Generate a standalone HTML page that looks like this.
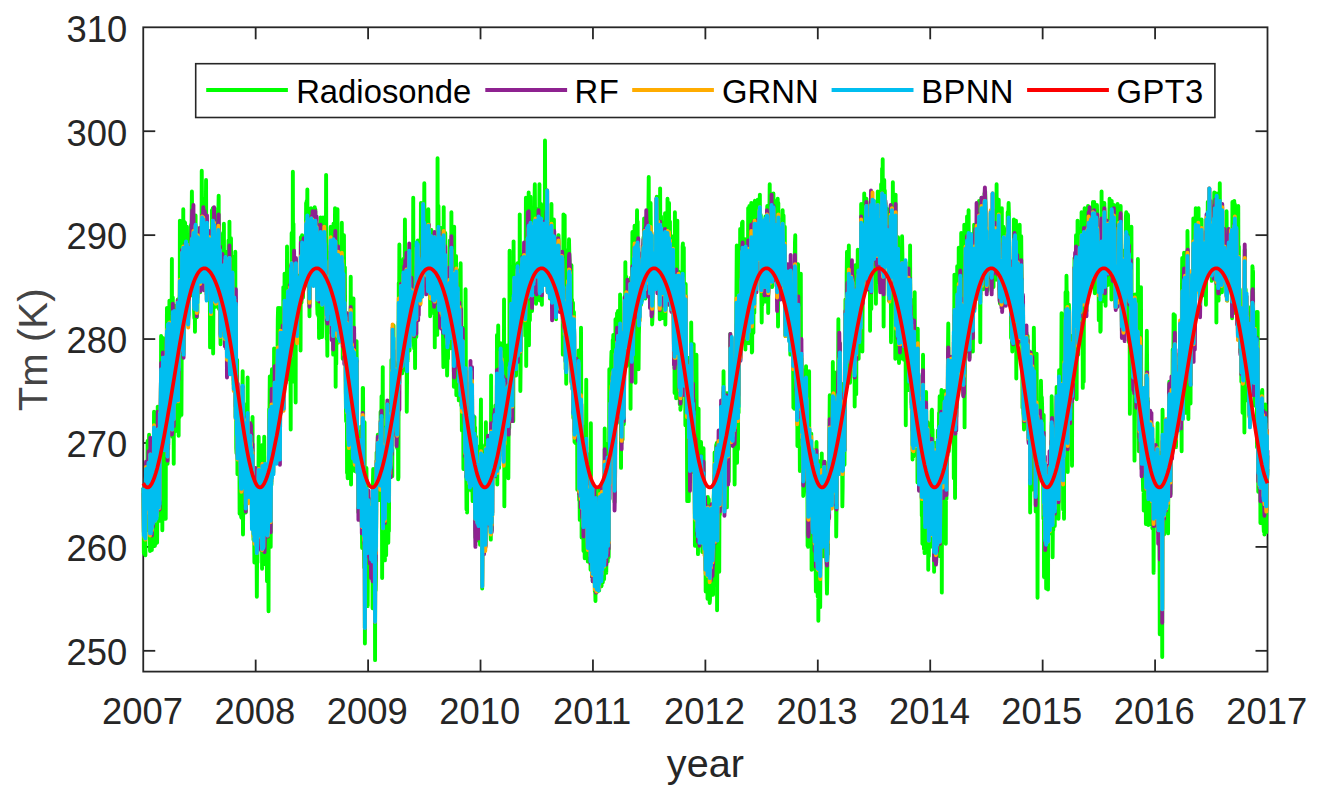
<!DOCTYPE html>
<html><head><meta charset="utf-8"><style>
html,body{margin:0;padding:0;background:#fff;}
svg{display:block;}
text{font-family:"Liberation Sans",sans-serif;}
</style></head><body>
<svg width="1318" height="798" viewBox="0 0 1318 798">
<rect width="1318" height="798" fill="#fff"/>
<g stroke="#262626" stroke-width="1.8" fill="none"><line x1="255.68" y1="671.60" x2="255.68" y2="659.60"/><line x1="255.68" y1="27.30" x2="255.68" y2="39.30"/><line x1="368.10" y1="671.60" x2="368.10" y2="659.60"/><line x1="368.10" y1="27.30" x2="368.10" y2="39.30"/><line x1="480.52" y1="671.60" x2="480.52" y2="659.60"/><line x1="480.52" y1="27.30" x2="480.52" y2="39.30"/><line x1="592.95" y1="671.60" x2="592.95" y2="659.60"/><line x1="592.95" y1="27.30" x2="592.95" y2="39.30"/><line x1="705.38" y1="671.60" x2="705.38" y2="659.60"/><line x1="705.38" y1="27.30" x2="705.38" y2="39.30"/><line x1="817.80" y1="671.60" x2="817.80" y2="659.60"/><line x1="817.80" y1="27.30" x2="817.80" y2="39.30"/><line x1="930.22" y1="671.60" x2="930.22" y2="659.60"/><line x1="930.22" y1="27.30" x2="930.22" y2="39.30"/><line x1="1042.65" y1="671.60" x2="1042.65" y2="659.60"/><line x1="1042.65" y1="27.30" x2="1042.65" y2="39.30"/><line x1="1155.08" y1="671.60" x2="1155.08" y2="659.60"/><line x1="1155.08" y1="27.30" x2="1155.08" y2="39.30"/><line x1="143.25" y1="650.82" x2="155.25" y2="650.82"/><line x1="1267.50" y1="650.82" x2="1255.50" y2="650.82"/><line x1="143.25" y1="546.90" x2="155.25" y2="546.90"/><line x1="1267.50" y1="546.90" x2="1255.50" y2="546.90"/><line x1="143.25" y1="442.98" x2="155.25" y2="442.98"/><line x1="1267.50" y1="442.98" x2="1255.50" y2="442.98"/><line x1="143.25" y1="339.06" x2="155.25" y2="339.06"/><line x1="1267.50" y1="339.06" x2="1255.50" y2="339.06"/><line x1="143.25" y1="235.14" x2="155.25" y2="235.14"/><line x1="1267.50" y1="235.14" x2="1255.50" y2="235.14"/><line x1="143.25" y1="131.22" x2="155.25" y2="131.22"/><line x1="1267.50" y1="131.22" x2="1255.50" y2="131.22"/><rect x="143.25" y="27.30" width="1124.25" height="644.30" fill="none"/></g>
<g fill="none" stroke-width="3.90" stroke-linejoin="round" stroke-linecap="butt">
<g transform="translate(143.250 671.600) scale(0.307845 -1.039194)"><path d="M0 177l1-21 1-42 1 1 1-2 1 0 1 14 1-15 1 61 1 23 1-14 1 1 1 4 1-39 1 74 1-39 1 6 1 16 1-69 1 92 1-52 1 5 1-65 1 105 1-37 1-59 1 33 1-10 1-31 1 59 1 34 1-79 1-1 1 38 1 31 1 51 1-20 1-49 1-60 1 37 1 65 1-40 1-53 1-6 1 3 1-3 1 41 1 90 1-85 1 50 1-57 1-18 1 39 1-20 1 82 1-36 1 25 1-5 1 93 1-33 1 0 1-35 1-119 1 118 1 67 1-99 1 66 1-50 1 11 1-44 1 64 1 43 1-123 1-42 1 167 1-84 1 73 1 47 1-48 1-102 1 88 1-70 1 115 1 0 1-18 1 42 1-26 1-20 1-1 1-46 1 92 1-50 1 10 1 81 1-171 1 63 1 71 1-85 1 54 1-129 1 106 1 46 1-44 1-77 1 60 1 10 1-34 1 69 1-36 1 20 1-14 1-1 1 53 1-115 1 108 1-124 1 88 1 33 1-103 1 189 1-103 1 35 1-19 1 12 1-112 1 66 1 104 1-62 1 2 1-11 1 99 1-135 1 33 1 90 1-50 1-30 1 79 1-70 1 45 1 19 1-74 1-1 1 77 1-46 1-41 1 6 1 25 1-9 1-15 1 40 1 11 1 7 1 2 1-18 1-15 1 55 1-68 1 69 1 31 1-31 1-43 1 22 1 1 1 18 1-38 1-43 1-8 1 41 1-54 1 93 1 19 1-44 1 33 1-49 1-38 1 43 1-39 1 80 1-47 1-2 1 1 1 15 1-10 1 22 1-29 1-10 1 6 1 45 1-20 1-12 1 98 1-35 1-27 1 35 1-18 1-5 1-16 1-46 1 12 1 31 1 29 1-55 1 47 1-8 1 47 1-90 1 18 1 18 1-31 1 4 1 5 1-36 1 34 1-20 1 8 1 36 1-24 1-83 1 110 1-51 1-48 1 43 1 8 1 70 1-28 1-52 1 82 1-140 1 52 1 3 1 84 1-26 1-24 1-10 1 24 1-43 1-15 1 65 1-34 1-5 1 10 1 16 1-17 1 60 1-5 1 17 1-109 1 11 1 48 1-4 1-41 1-48 1 54 1 25 1-28 1-42 1 49 1 13 1-6 1 42 1-18 1-57 1 84 1-99 1 22 1-31 1 20 1 61 1-66 1-15 1 44 1-13 1-60 1 56 1-4 1 15 1-8 1 62 1-77 1 7 1 88 1-103 1-42 1 25 1 19 1 85 1-86 1 16 1 1 1 1 1 50 1-93 1-6 1-3 1-21 1 67 1-9 1-40 1 23 1 87 1-159 1 115 1-145 1-5 1 20 1 70 1-110 1 69 1-50 1 20 1-14 1 1 1 26 1-90 1 78 1-18 1-14 1-22 1-27 1-1 1 13 1 27 1 80 1 21 1-157 1 40 1 44 1-24 1 31 1 14 1-5 1-61 1 76 1-94 1 31 1 56 1-36 1 54 1-66 1 91 1-101 1-9 1 22 1 12 1-30 1 27 1-37 1 57 1 2 1-20 1 20 1-25 1 12 1-66 1 57 1 41 1-67 1 6 1-57 1 3 1 24 1-49 1 32 1 41 1-40 1 37 1-22 1-39 1 17 1-59 1 48 1-15 1 56 1-38 1 52 1 51 1-58 1 26 1-16 1 16 1-52 1 53 1-18 1 20 1-2 1-8 1-88 1 119 1-49 1 16 1-82 1 56 1-11 1 78 1-80 1-34 1 83 1-27 1-26 1 29 1-36 1-15 1-33 1 59 1-50 1 5 1 38 1-81 1 152 1 43 1-6 1 37 1-1 1-74 1-89 1 61 1-2 1 99 1 13 1-25 1-43 1-33 1 47 1-27 1 0 1 101 1-85 1 71 1-37 1 17 1-12 1-3 1-27 1-24 1 60 1 10 1 14 1 44 1 11 1-114 1 33 1-38 1 51 1-57 1 125 1-97 1 86 1-45 1-41 1 57 1 30 1-42 1 27 1 18 1-72 1 99 1-106 1 39 1-35 1 115 1-56 1-32 1 60 1-14 1-40 1 19 1-31 1 120 1-128 1 62 1 20 1-23 1 3 1 2 1-20 1 6 1 22 1 29 1-71 1-78 1 157 1-39 1 71 1-121 1-22 1 51 1 151 1-125 1 75 1-82 1-52 1 80 1-29 1 3 1-31 1-61 1 137 1-46 1-6 1 4 1-31 1 52 1-1 1-19 1 32 1-30 1 5 1 5 1 17 1 3 1-14 1-58 1 109 1-37 1-26 1 13 1 52 1-34 1 24 1-50 1 33 1-4 1-9 1-4 1-1 1-4 1 46 1-37 1 10 1 61 1-46 1 48 1-35 1 46 1-77 1 45 1-54 1 60 1-83 1 29 1-42 1 55 1-15 1 23 1 8 1 33 1-8 1-12 1-34 1-11 1 63 1-16 1-22 1-31 1 35 1 12 1 11 1 14 1-20 1 18 1-48 1 18 1-27 1 43 1-28 1-51 1-8 1 23 1 31 1-56 1 52 1-73 1 79 1-31 1 47 1 10 1 11 1-39 1 26 1-41 1-14 1-47 1 50 1 45 1 20 1-46 1-1 1 12 1 34 1-46 1 21 1-55 1 47 1-32 1 107 1-133 1-25 1 18 1-34 1 99 1-66 1 33 1-1 1-24 1 0 1 29 1-7 1-29 1 63 1 27 1-74 1 57 1-86 1 89 1-79 1 82 1-50 1-62 1 126 1-86 1 24 1 41 1 4 1 32 1-13 1-159 1 99 1-77 1 61 1 6 1-47 1 129 1-90 1 51 1-56 1-31 1 22 1-21 1 6 1-9 1 45 1-12 1-11 1 55 1-38 1 76 1-64 1 44 1-111 1 36 1 62 1-53 1 74 1-114 1 53 1 30 1-58 1 10 1-79 1-21 1 13 1 91 1-154 1 67 1-72 1 155 1-72 1-42 1-16 1 50 1-34 1 49 1 31 1-42 1 115 1-200 1 97 1-40 1 85 1-69 1 0 1-51 1 114 1 43 1-98 1 65 1-93 1-40 1 33 1 43 1 9 1-1 1-4 1 45 1-42 1-80 1-5 1 10 1-2 1-46 1 43 1 24 1 11 1-83 1 36 1 9 1 19 1-51 1 75 1-92 1 4 1-29 1 22 1 132 1 0 1-79 1 3 1-84 1-13 1 140 1-213 1 95 1 26 1 22 1-3 1 29 1-27 1-82 1 34 1-58 1 48 1 2 1 54 1-27 1 17 1-21 1-12 1 34 1-38 1 29 1-43 1 4 1 3 1 12 1 17 1-81 1 120 1 14 1-43 1-5 1-39 1-29 1 106 1-174 1 133 1-66 1 13 1 87 1 33 1-2 1-21 1 26 1 14 1-7 1-30 1 24 1-19 1-31 1 58 1-10 1-28 1 65 1-33 1 9 1 39 1-68 1-107 1 134 1 69 1-144 1 55 1 17 1 4 1-34 1-6 1-78 1 109 1 19 1-52 1-71 1 57 1 60 1 1 1 28 1-99 1 20 1-55 1 27 1-16 1 60 1-5 1 37 1-36 1 9 1-2 1 34 1 68 1-17 1 10 1-105 1 84 1-5 1 22 1 44 1-94 1 10 1 49 1-31 1-11 1 39 1-61 1 7 1 35 1-5 1-54 1-2 1 29 1 31 1-90 1 2 1 187 1-29 1 66 1-51 1-61 1-11 1 4 1 93 1-94 1 29 1-20 1-13 1 21 1-19 1 27 1 81 1-55 1 35 1 14 1-22 1 66 1-44 1-43 1-37 1 37 1 48 1-146 1 32 1 75 1-58 1 41 1-13 1 58 1-18 1 5 1-63 1 31 1 22 1-34 1 44 1-9 1-7 1-21 1 27 1-43 1 42 1-26 1 121 1-107 1-33 1-5 1 47 1-11 1-55 1 78 1-5 1 10 1-53 1 91 1-26 1 10 1-6 1 24 1-45 1 27 1-33 1 16 1-13 1 25 1-20 1 17 1-29 1 91 1-79 1 8 1-13 1-6 1 20 1 22 1 13 1 13 1-1 1-6 1 48 1-71 1 41 1-60 1 38 1-20 1-21 1 33 1 22 1-38 1-8 1 4 1-18 1 73 1-41 1 23 1-6 1-34 1 20 1-65 1 15 1 33 1 30 1 5 1-22 1-3 1-14 1 15 1-37 1 17 1 5 1 10 1-52 1 71 1-103 1 101 1-31 1-23 1 4 1 15 1-18 1 43 1-79 1 170 1-106 1-8 1 68 1-52 1-59 1 77 1 8 1-76 1 47 1-39 1 73 1-84 1 34 1-21 1-5 1-6 1 15 1-47 1-20 1 154 1-142 1 47 1 44 1-60 1 86 1-40 1-44 1-9 1 23 1 0 1-67 1 14 1 17 1-15 1 41 1 22 1 4 1-8 1 13 1 42 1-104 1 68 1-35 1 19 1 79 1-93 1 21 1-23 1 39 1-50 1 15 1-20 1-57 1 154 1-123 1 79 1-1 1-30 1 2 1 45 1-134 1 86 1-1 1-38 1 24 1 49 1-70 1 29 1-84 1 12 1 85 1-71 1 45 1-63 1 124 1-62 1-75 1 36 1-60 1 56 1 2 1 41 1-52 1-84 1 40 1 28 1-9 1 6 1 10 1-63 1 161 1-85 1-79 1-48 1 78 1-81 1 95 1-55 1-19 1 26 1 36 1 14 1-18 1 10 1-65 1 18 1 83 1-63 1 28 1-62 1-7 1 113 1-109 1-14 1 48 1-7 1 21 1 4 1-35 1 50 1-69 1 59 1-106 1 62 1 35 1-31 1-26 1 0 1-29 1 33 1 9 1 16 1-72 1 37 1-3 1 57 1-35 1-60 1 67 1 47 1 26 1-99 1 15 1 40 1-138 1 53 1-8 1 75 1-41 1 48 1-76 1 36 1 8 1 12 1-26 1-40 1 119 1-99 1 43 1-23 1 34 1 8 1-11 1-43 1 56 1 0 1-24 1-30 1 55 1 8 1 8 1-88 1-7 1 158 1-96 1-53 1 42 1 40 1 16 1-40 1 35 1-20 1-2 1 33 1-31 1 39 1-53 1 61 1-50 1 43 1-33 1-1 1 109 1-144 1 36 1 13 1 104 1-47 1-11 1-79 1 25 1-13 1 53 1-34 1 89 1-64 1-13 1 38 1 25 1-4 1-64 1 22 1-3 1-12 1-23 1 140 1-199 1 59 1 23 1 22 1 26 1-56 1 14 1-14 1 36 1-54 1 34 1 65 1-87 1-41 1 52 1 3 1-7 1 171 1-118 1 17 1-28 1-7 1 94 1-11 1-10 1-58 1-29 1 55 1-26 1-43 1 173 1-100 1 64 1-74 1 13 1 57 1-50 1 42 1-81 1 42 1 4 1-21 1 69 1 14 1-94 1 25 1 37 1-49 1 58 1-70 1 140 1-63 1-107 1 29 1 52 1 5 1-12 1 42 1 15 1-4 1-36 1 8 1 5 1-9 1-3 1-7 1 16 1-34 1-14 1 26 1 107 1-162 1 74 1 13 1 0 1-15 1 64 1-34 1-24 1 89 1-147 1 80 1-31 1-25 1 59 1 60 1-76 1-8 1 15 1 1 1-42 1 48 1 18 1 26 1-68 1 9 1 16 1 19 1 39 1 15 1-40 1 12 1-31 1-56 1 62 1-41 1 70 1-37 1-12 1-3 1 18 1 14 1 3 1-17 1 58 1-112 1 28 1 11 1-1 1 55 1-42 1-22 1-33 1 63 1-21 1-2 1 24 1-3 1 32 1-61 1 29 1-32 1 129 1-84 1-26 1-16 1-1 1 72 1-47 1 13 1-40 1-16 1 28 1-19 1 4 1-7 1-5 1 8 1-16 1 72 1-25 1 21 1-3 1 26 1-59 1-36 1 11 1 15 1-9 1 10 1-8 1 61 1-33 1-5 1 19 1-58 1 5 1 6 1-30 1 67 1-30 1 20 1 6 1-40 1 13 1 44 1 1 1-62 1 11 1 7 1-8 1-19 1 20 1 18 1 11 1-10 1-1 1 6 1 9 1-13 1-84 1 56 1 79 1-105 1 11 1 5 1 88 1-100 1 11 1-59 1 46 1-60 1 41 1 87 1-24 1-30 1 12 1 13 1-38 1 19 1 59 1-13 1-7 1-77 1 24 1-6 1 6 1-15 1 63 1-78 1 45 1-80 1 2 1 75 1-111 1 21 1 81 1-31 1-94 1 53 1 13 1-67 1 64 1-49 1 55 1-18 1 1 1-98 1 78 1-26 1 23 1 59 1-7 1-137 1 16 1-35 1 106 1-61 1-30 1 170 1-83 1-119 1 3 1 24 1 6 1 1 1-4 1-43 1 93 1-63 1 90 1-127 1 112 1-101 1 77 1 20 1 64 1-121 1-23 1 52 1-45 1-38 1 57 1 46 1-43 1-19 1-12 1 16 1 10 1-8 1-55 1 141 1-117 1 0 1 37 1-68 1 77 1-81 1 67 1-7 1 27 1-1 1-19 1-35 1-42 1 4 1-13 1 108 1-98 1 86 1-81 1 49 1-29 1-26 1 37 1-13 1-23 1 91 1-91 1 59 1 39 1-53 1-26 1-14 1 36 1-37 1 1 1 84 1-77 1 76 1-80 1 30 1 53 1-35 1-45 1 30 1 115 1-68 1 44 1-113 1 24 1-26 1 24 1 68 1-62 1 94 1-113 1 42 1-32 1-6 1 70 1 111 1-62 1 41 1 11 1-65 1 52 1 30 1 10 1-32 1 30 1-60 1 73 1-5 1 10 1-54 1-37 1 18 1-88 1 145 1-89 1 120 1-6 1-1 1-15 1-78 1 106 1-26 1-58 1 86 1-27 1-59 1 18 1 25 1-12 1 12 1 59 1-49 1-20 1-98 1 87 1-63 1 56 1 45 1-98 1 43 1 20 1 28 1-76 1 53 1 10 1 60 1-31 1 64 1-44 1-7 1 37 1-86 1 83 1-62 1 55 1-62 1 42 1 14 1-11 1-49 1 68 1-51 1-12 1 56 1-112 1 126 1-14 1-12 1-55 1 80 1 45 1-35 1-78 1 36 1 21 1 39 1 1 1 22 1-26 1-60 1-65 1 81 1 30 1-34 1 46 1 43 1-50 1 39 1-51 1 28 1-119 1 33 1 11 1 63 1-50 1 12 1 21 1-11 1-17 1 18 1-11 1-3 1 32 1 13 1-13 1 13 1 16 1-36 1 54 1-4 1-25 1 13 1-61 1 48 1-2 1 17 1 3 1 14 1-63 1 19 1 1 1-25 1 76 1 29 1-91 1 8 1 17 1-51 1 60 1 32 1-29 1-36 1-16 1 49 1-85 1 5 1 16 1 11 1 4 1 41 1-15 1-18 1 8 1-3 1 6 1 9 1-20 1 66 1-54 1 67 1-32 1-45 1 14 1 34 1 18 1-22 1-39 1-8 1 17 1-55 1 126 1-67 1 33 1 7 1-32 1 15 1-81 1 30 1-16 1 38 1 2 1-15 1 32 1-33 1 4 1-10 1 69 1-107 1 21 1 22 1-11 1 19 1-15 1 8 1 77 1-12 1-3 1-4 1-16 1 31 1-98 1 30 1 50 1-63 1 24 1-19 1-24 1 3 1 37 1 10 1-50 1 3 1 65 1-70 1-7 1-35 1 49 1-88 1 174 1-128 1 6 1 51 1-108 1 119 1-19 1 5 1 66 1-134 1 13 1 16 1 56 1-55 1-50 1-6 1-17 1 39 1-44 1 3 1 5 1 101 1-26 1 37 1-10 1 47 1 3 1-89 1 63 1 22 1-134 1 92 1-41 1 1 1-89 1 136 1-61 1-15 1-11 1-55 1-67 1 103 1 35 1-9 1-41 1-88 1 59 1 24 1-22 1-27 1 40 1 49 1-42 1 91 1-36 1-64 1-44 1 19 1 3 1 46 1-30 1 85 1-98 1 10 1-33 1-73 1 65 1 36 1-81 1 23 1 141 1-85 1-35 1-60 1 78 1-90 1 61 1 79 1-115 1 68 1-74 1 52 1-10 1-31 1 41 1 37 1-20 1-61 1 24 1-49 1 63 1 8 1-17 1 46 1-27 1-53 1-19 1 29 1 13 1-27 1-54 1 30 1 27 1-53 1 76 1 8 1-95 1 98 1-16 1-34 1 48 1-20 1 2 1-82 1 3 1 71 1-32 1 5 1 3 1 29 1-22 1 21 1-40 1 4 1-34 1 51 1 42 1 11 1-21 1 54 1-57 1-41 1 31 1 24 1 50 1-24 1 26 1-161 1 60 1 87 1-26 1 35 1 5 1-28 1-96 1 89 1-34 1 10 1 62 1-9 1 42 1-9 1-49 1 46 1-67 1 58 1-29 1 10 1 73 1-51 1-17 1-63 1 16 1 46 1-17 1 34 1-13 1 44 1-28 1-82 1 56 1 54 1-6 1-72 1 72 1-79 1 49 1 30 1 6 1-8 1 65 1-28 1-29 1 46 1-88 1 79 1-73 1 15 1-17 1 58 1-1 1-65 1 21 1 23 1-86 1 58 1 28 1 5 1 40 1 9 1 47 1 43 1-209 1 62 1-4 1-45 1 109 1-74 1 123 1-59 1-10 1 17 1 106 1-118 1 10 1-1 1 48 1 20 1 47 1-1 1 2 1-115 1 91 1-32 1 33 1-61 1 33 1-7 1 41 1-106 1 93 1-60 1 22 1 11 1-11 1-17 1-29 1 15 1 112 1-73 1-57 1 45 1 87 1-64 1 8 1 2 1-27 1 55 1 29 1-88 1-56 1 1 1 87 1 21 1-56 1-34 1 107 1-52 1-36 1 107 1 1 1-58 1 20 1-22 1-23 1 9 1 59 1-38 1 11 1 43 1-21 1-31 1 21 1 4 1 26 1-17 1 23 1-66 1 47 1-1 1-37 1-42 1-24 1 58 1-41 1 40 1-5 1 36 1-27 1 19 1-18 1-29 1-2 1-11 1 82 1-36 1-12 1 6 1 19 1 22 1 11 1-89 1 44 1-58 1 33 1 18 1 7 1 39 1 27 1-72 1-20 1 31 1-19 1 17 1 51 1-69 1-18 1 69 1-58 1 59 1 20 1-22 1-26 1 19 1-12 1-29 1 63 1-66 1 11 1 35 1-45 1-7 1-16 1 32 1 58 1-123 1 119 1-39 1 5 1 3 1-37 1 2 1-12 1 33 1 29 1-6 1-13 1-14 1 11 1 17 1 14 1-18 1-20 1 33 1-31 1 1 1-43 1 62 1-73 1-32 1 47 1 7 1 4 1-29 1-2 1-24 1 54 1 0 1 7 1-36 1-7 1-24 1 1 1 5 1 1 1-22 1 85 1-26 1-39 1 41 1-48 1-4 1 55 1-7 1-67 1-41 1 77 1-3 1-75 1 129 1 31 1 7 1-126 1-19 1-13 1 17 1-8 1 54 1-108 1 72 1 103 1-39 1-104 1 24 1 21 1-48 1-53 1 65 1 105 1 20 1-128 1 46 1-38 1-33 1 55 1-67 1 28 1-77 1 5 1 28 1 18 1 70 1-46 1-39 1 85 1-52 1 56 1-40 1 13 1-5 1-25 1-116 1 71 1-72 1 4 1 63 1 102 1-121 1-7 1 49 1-3 1-38 1 20 1 40 1-131 1 82 1 19 1-47 1-44 1 76 1 29 1-49 1-29 1 21 1-57 1 91 1-12 1-64 1-37 1 128 1 16 1-89 1 25 1-65 1-20 1 131 1-154 1 110 1-10 1-67 1 87 1-3 1-104 1 69 1 48 1-62 1 41 1 52 1-40 1-11 1-38 1 29 1-34 1-5 1 61 1 25 1-20 1 25 1-19 1-21 1 7 1-25 1-17 1-37 1-15 1 18 1 45 1-25 1 45 1-8 1 7 1 18 1 55 1 36 1-28 1-33 1-9 1-1 1 6 1-3 1 55 1-42 1-13 1 100 1-54 1 42 1-4 1-43 1 49 1-28 1-98 1 62 1-8 1-2 1-84 1 25 1 39 1 47 1-40 1 32 1 33 1 73 1-142 1 32 1 79 1-9 1 17 1-93 1-26 1 69 1-44 1 55 1-20 1-34 1-64 1 20 1 71 1-34 1 2 1 29 1 13 1-61 1 66 1 48 1 45 1-82 1 23 1-4 1 87 1 22 1-18 1-86 1 27 1-11 1-5 1 99 1-89 1 15 1 0 1-58 1 11 1 66 1 7 1 26 1-37 1 21 1-60 1 72 1-76 1 59 1-24 1-37 1 32 1 15 1-98 1 53 1 83 1-53 1 21 1-92 1 70 1-13 1 48 1-17 1 51 1-13 1-2 1-90 1 79 1-19 1-40 1 16 1 9 1 5 1-26 1 125 1-82 1 12 1 51 1-123 1 52 1 33 1 43 1-62 1 12 1 74 1-54 1 11 1 17 1-12 1 15 1-66 1 84 1-4 1-11 1-55 1 51 1-40 1 0 1-6 1-7 1-16 1 33 1 10 1-82 1 75 1-21 1 58 1-91 1 51 1-17 1 22 1-14 1 37 1 4 1-24 1 45 1-63 1 34 1 25 1-16 1-2 1-22 1-55 1 80 1-37 1 20 1-43 1 45 1 43 1-41 1 11 1-17 1 25 1-14 1-12 1-10 1-2 1 31 1-16 1 52 1-57 1-14 1 86 1-74 1 83 1-109 1 20 1-72 1 92 1 49 1-44 1 34 1-62 1 50 1-58 1 0 1 8 1 4 1 12 1-9 1 37 1-55 1 11 1-5 1-39 1 7 1-7 1 29 1 21 1-24 1 65 1-131 1 71 1-8 1 65 1-47 1 15 1 58 1-59 1-23 1 14 1-15 1-4 1 2 1 44 1-129 1 158 1-152 1 68 1-5 1 18 1-36 1-1 1-45 1 112 1-64 1-31 1-26 1 100 1-88 1 1 1 33 1-42 1 51 1-17 1 3 1 18 1 63 1-17 1-53 1 13 1-7 1 12 1-67 1 66 1-40 1 14 1-16 1 70 1-157 1 105 1 16 1 19 1-51 1 14 1-24 1 12 1 41 1 18 1-103 1-13 1 27 1 16 1 96 1-73 1 13 1 8 1-14 1-87 1 28 1-20 1-61 1 36 1 17 1-50 1 41 1 80 1-79 1 116 1-74 1-9 1-8 1-63 1 5 1 21 1-13 1 58 1-100 1 148 1-92 1 49 1-87 1-25 1 88 1-38 1 38 1-18 1-23 1-32 1 18 1-15 1-43 1 29 1-56 1 112 1 70 1-72 1-5 1-110 1 78 1-82 1 68 1-67 1 67 1-38 1 125 1-70 1-73 1 84 1-19 1 49 1-12 1-130 1 126 1-113 1 66 1-29 1 30 1-19 1-39 1 13 1 33 1 14 1 71 1 1 1-60 1 41 1-35 1-7 1 20 1 3 1-118 1 55 1 58 1-11 1 22 1-95 1-17 1-3 1 57 1 19 1-61 1 16 1 96 1-67 1-45 1 96 1 33 1-11 1 27 1-154 1 42 1 52 1 44 1-3 1 25 1-195 1 125 1-6 1-15 1 35 1-43 1 20 1 47 1-5 1 36 1-71 1 7 1 23 1-106 1 143 1-100 1 90 1-57 1 14 1 28 1 68 1 26 1-34 1-89 1 90 1-72 1 23 1 5 1 30 1 6 1 5 1-58 1-3 1 2 1 46 1-58 1 69 1-55 1 38 1-94 1 127 1 69 1-62 1-153 1 68 1 59 1-28 1-21 1 10 1-1 1 136 1-100 1 31 1 39 1-18 1 66 1-40 1-10 1-31 1-3 1 75 1-56 1-37 1 116 1-62 1-16 1-42 1 25 1-23 1-23 1-15 1 44 1-30 1 150 1-195 1 83 1 3 1 65 1 33 1-9 1-51 1-51 1 130 1-80 1 54 1-5 1-1 1 38 1-40 1-41 1-61 1 25 1 36 1 15 1 0 1 43 1-26 1-29 1 24 1-33 1-25 1-24 1 49 1-5 1 23 1 55 1-75 1 25 1 41 1-18 1-19 1-19 1 29 1 31 1-19 1-12 1 13 1-48 1 6 1 14 1 26 1 48 1-54 1 42 1-66 1-58 1 85 1 18 1-45 1 81 1-82 1 41 1-37 1 22 1 19 1-51 1 59 1 6 1-16 1 43 1 1 1 1 1-17 1-37 1-25 1-12 1 3 1-8 1 18 1 27 1-4 1-26 1 17 1 9 1-15 1 16 1-6 1-22 1 14 1 47 1-16 1-58 1 10 1 16 1 10 1-24 1 65 1-44 1-30 1 51 1-10 1-21 1 39 1-22 1-3 1-16 1 40 1-41 1 82 1-92 1 27 1-14 1 35 1-15 1 13 1 31 1-62 1-8 1-26 1-4 1 32 1 11 1 3 1-2 1-42 1 90 1-92 1-4 1 36 1-9 1 51 1-9 1-50 1-6 1 63 1-53 1 12 1-2 1-29 1 32 1-10 1 22 1 3 1-1 1 42 1-28 1 25 1 12 1-10 1-53 1-29 1-3 1 23 1 12 1-12 1-58 1 43 1-29 1-17 1-10 1 68 1-47 1 40 1-16 1 82 1-17 1 6 1-43 1 52 1-14 1-24 1 39 1-152 1 103 1-49 1 87 1-47 1 30 1-90 1 20 1 3 1 60 1-74 1 105 1-70 1 23 1-16 1 14 1 38 1-35 1-21 1-42 1-67 1 102 1-8 1-100 1-4 1-11 1 3 1 67 1-22 1 24 1-21 1-14 1 36 1 20 1-64 1 0 1 55 1 6 1-58 1-2 1-41 1 36 1 33 1-47 1 64 1-155 1 34 1 119 1-81 1 27 1-24 1-53 1 117 1-13 1-38 1-3 1 39 1 54 1-31 1-32 1-49 1 3 1 8 1-76 1 31 1 70 1 51 1-61 1-15 1-159 1 150 1-6 1-11 1 7 1 13 1-21 1 25 1-31 1 38 1-4 1 49 1-15 1-47 1 46 1-10 1-55 1 24 1-26 1-50 1 100 1-156 1 95 1-35 1 39 1-100 1 56 1 28 1-94 1 25 1 90 1-5 1-84 1 77 1-104 1 112 1-4 1-13 1-13 1 37 1-44 1-21 1 41 1-15 1 42 1-7 1 71 1-20 1-4 1-131 1 40 1-14 1 24 1 12 1 23 1-22 1-33 1 58 1 4 1 17 1-5 1 5 1 55 1-38 1 7 1-38 1 39 1-56 1-41 1 17 1 126 1-50 1-9 1 3 1-5 1-31 1 22 1 73 1 52 1-88 1-28 1 95 1-44 1-124 1 93 1-48 1-54 1 151 1-38 1 73 1-93 1 125 1-6 1-120 1 142 1-27 1-25 1 36 1-173 1 66 1-2 1 17 1 80 1-103 1 26 1 10 1-42 1 29 1-9 1 59 1-24 1-40 1-61 1 121 1-13 1-19 1 33 1-11 1 40 1 14 1 35 1-18 1 12 1-27 1 10 1 45 1-41 1-117 1 97 1-21 1 96 1-97 1-32 1 50 1 35 1-59 1 36 1 52 1-14 1-11 1-43 1 47 1-29 1 73 1-40 1-45 1 11 1-95 1 110 1-20 1-84 1 152 1-4 1 19 1-38 1-57 1 61 1-31 1 57 1-91 1 92 1-60 1-17 1 71 1 15 1-68 1 67 1-28 1-36 1 62 1-27 1-27 1-8 1 59 1-34 1 19 1-23 1 29 1-25 1-19 1 63 1-73 1 48 1-21 1 46 1-19 1-69 1 47 1 6 1-3 1-24 1 46 1-32 1 45 1-16 1-12 1-51 1 13 1 23 1-68 1 52 1 8 1-51 1 58 1-78 1 1 1 43 1 9 1 82 1-106 1 32 1 15 1 3 1-6 1 41 1 0 1-69 1 79 1-15 1-59 1 40 1-65 1 66 1 12 1 4 1-2 1-36 1 38 1-62 1 29 1 26 1 2 1-24 1 22 1 28 1-5 1-12 1-4 1-23 1 1 1-54 1 95 1-44 1 16 1-43 1 57 1-45 1-16 1 71 1-47 1 31 1-45 1-17 1-3 1-18 1 16 1 18 1-19 1 26 1-28 1 87 1-66 1-16 1 5 1 26 1 24 1-16 1-15 1 45 1 4 1 7 1-56 1-30 1 15 1-49 1 27 1 48 1-11 1 13 1-77 1 5 1 31 1-3 1-27 1 39 1-43 1 56 1 52 1 4 1-3 1-80 1 75 1 5 1 1 1-1 1-24 1-37 1-61 1 58 1-7 1-120 1 96 1 76 1-8 1-50 1 66 1-116 1 39 1-61 1 22 1-26 1-4 1 40 1-23 1-13 1-83 1 150 1 10 1-64 1 56 1-28 1-63 1 63 1-52 1-10 1 26 1 106 1-82 1-51 1-52 1 69 1-40 1 57 1 19 1 13 1 6 1 34 1-132 1-43 1 21 1 29 1-4 1-56 1-11 1 75 1-94 1 70 1-37 1 53 1-10 1 7 1-17 1-79 1 17 1 132 1 37 1-34 1-92 1 61 1-87 1-35 1 78 1-64 1 75 1-6 1 0 1 15 1-8 1 10 1-60 1 54 1-94 1 76 1-79 1 45 1 5 1 20 1-113 1 64 1 32 1-2 1-5 1-21 1-21 1 73 1-34 1 18 1 0 1-56 1 73 1 23 1-49 1-49 1-7 1 8 1 59 1-24 1-141 1 119 1 8 1 47 1-16 1 17 1-90 1 80 1-187 1 238 1-17 1-64 1 12 1 7 1-58 1 20 1-6 1-1 1 7 1 88 1-90 1 8 1-23 1 69 1-17 1 39 1-26 1-67 1 48 1 14 1 58 1 26 1-32 1 32 1-51 1-57 1 64 1 14 1 25 1-36 1-32 1 47 1 57 1-63 1 47 1 50 1-37 1 16 1 7 1 13 1-76 1-28 1 28 1-51 1 28 1 37 1 12 1-59 1 4 1 4 1-8 1 8 1-6 1 17 1 53 1-31 1 23 1-4 1-25 1-13 1 23 1-67 1 155 1 31 1-59 1-95 1 42 1 16 1 66 1 35 1-80 1 14 1-15 1 58 1-131 1 56 1-20 1 25 1-1 1-21 1 136 1-24 1-108 1-49 1 77 1 30 1-40 1 48 1-87 1 20 1-33 1 61 1 15 1 13 1 24 1 5 1-49 1-6 1 4 1 111 1-119 1 60 1 12 1-6 1-53 1 37 1 40 1 39 1-63 1 56 1-45 1 1 1 44 1-1 1-41 1 46 1 3 1-75 1 11 1-3 1-17 1-10 1 21 1 2 1 17 1-20 1 63 1-54 1-12 1 26 1 19 1-52 1 37 1-25 1 1 1 45 1-6 1-5 1 7 1-21 1-42 1 37 1 45 1-35 1 20 1-23 1 55 1-60 1-6 1 20 1-6 1 44 1-14 1-27 1-8 1 52 1-29 1-10 1-10 1-22 1 5 1 14 1 13 1-12 1 35 1-51 1 55 1 26 1-19 1 15 1-52 1 36 1-8 1 16 1-113 1 124 1-62 1 35 1-26 1-17 1-26 1-7 1 33 1-27 1 60 1 47 1-58 1-8 1-11 1-13 1 32 1-40 1-7 1 62 1-31 1-12 1 0 1 9 1 22 1-5 1 7 1 6 1-43 1 5 1 7 1-17 1-9 1 77 1-34 1-52 1 18 1 8 1 25 1-24 1 31 1-40 1 11 1 29 1-14 1-9 1 2 1 29 1 0 1-3 1 4 1-84 1 112 1-44 1-27 1-31 1-5 1 93 1 15 1-104 1 101 1-12 1-64 1 11 1 33 1-20 1 4 1-63 1 29 1-8 1-38 1 126 1-110 1 71 1-65 1 0 1 24 1-32 1-29 1 40 1 3 1-71 1 2 1 6 1 32 1-70 1 31 1-23 1 41 1 28 1 4 1-100 1 176 1-86 1-20 1 68 1-35 1-17 1 37 1-92 1 77 1-22 1-40 1 21 1-15 1 23 1-44 1-15 1 58 1-59 1 92 1-27 1 41 1-47 1 12 1 27 1-15 1 62 1-3 1-2 1-111 1 60 1-8 1-40 1-30 1 88 1-34 1-6 1-19 1 34 1-41 1 68 1-130 1 112 1 18 1-78 1-95 1 61 1-8 1-24 1-29 1 72 1-14 1-88 1 82 1-43 1 27 1-3 1 63 1 2 1-37 1-4 1 15 1-103 1-7 1 44 1-47 1 48 1 16 1 61 1-25 1-82 1-16 1 96 1-2 1-43 1 10" stroke="#00FF00" vector-effect="non-scaling-stroke"/>
<path d="M0 172l1-8 1-30 1 9 1-12 1 5 1 6 1 9 1 30 1 21 1-13 1-9 1 10 1-28 1 25 1 2 1 11 1 12 1-31 1 30 1-12 1 5 1-52 1 73 1-30 1-45 1 32 1-31 1-20 1 38 1 28 1-58 1 3 1 36 1 7 1 47 1-3 1-15 1-63 1 14 1 61 1-46 1-19 1-8 1 0 1 19 1 32 1 46 1-77 1 48 1-55 1-8 1 21 1-23 1 83 1-31 1 39 1 17 1 33 1-21 1 6 1-24 1 13 1-26 1 62 1-75 1 26 1-20 1 18 1-31 1 50 1 23 1-61 1 67 1-6 1-51 1 68 1 12 1-29 1-95 1 122 1-111 1 102 1 5 1-19 1 26 1-19 1 16 1-21 1-45 1 56 1-69 1-7 1-11 1 5 1 51 1 70 1-75 1-15 1-28 1 79 1 32 1-62 1-20 1 16 1 15 1-30 1 73 1-7 1-21 1 6 1-3 1 43 1-91 1 45 1-30 1 29 1 30 1-8 1 30 1-31 1 26 1-9 1 4 1-44 1 5 1 93 1-41 1-14 1-6 1 59 1-102 1 39 1 30 1-4 1-2 1 30 1 17 1-26 1 20 1-66 1 2 1 69 1-55 1 10 1-13 1-10 1 8 1 3 1 44 1 0 1-4 1-7 1-16 1 5 1 29 1-14 1 33 1 9 1 11 1-40 1 19 1 13 1 13 1-45 1-33 1-19 1 33 1-8 1 27 1 19 1-23 1 22 1-41 1-39 1 41 1-23 1 57 1-39 1 7 1 4 1 5 1-8 1 41 1-36 1-25 1 14 1 27 1-15 1-9 1 43 1 13 1-29 1 23 1 2 1 12 1-42 1-38 1 14 1 3 1 59 1-51 1 43 1-14 1-7 1-31 1-20 1 76 1-28 1 0 1-25 1-7 1 14 1-33 1 64 1-12 1-9 1-16 1 25 1-34 1-26 1 7 1 25 1 26 1-7 1-34 1 58 1-51 1-4 1-5 1 80 1-19 1-33 1 14 1 19 1-47 1-12 1 43 1-22 1-22 1 17 1 17 1 10 1 17 1 2 1 9 1-56 1-17 1 38 1 4 1-40 1-44 1 47 1 18 1-33 1-22 1 58 1 9 1-56 1 17 1 29 1-33 1 23 1-41 1 20 1-48 1 9 1 62 1-49 1-24 1 51 1-18 1-61 1 67 1-38 1 16 1 2 1 61 1-48 1 7 1 60 1-88 1-15 1 17 1 21 1-12 1 25 1-14 1-2 1-11 1 46 1-84 1 11 1-6 1-18 1 59 1 27 1-71 1 27 1-19 1-48 1 113 1-99 1 16 1-42 1-4 1-31 1 69 1-58 1 29 1-34 1 3 1 32 1-29 1 22 1-17 1-15 1-17 1-1 1-14 1 11 1 2 1 83 1 0 1-22 1-78 1 42 1-23 1 35 1 12 1-20 1-41 1 51 1-76 1 48 1 42 1-52 1 50 1-62 1 60 1-74 1 2 1 13 1 16 1 3 1-2 1-22 1 53 1 10 1-25 1 23 1-38 1 30 1-79 1 51 1 18 1-28 1-10 1-35 1-1 1 26 1-32 1 21 1 11 1-2 1 27 1-23 1-40 1 5 1-14 1-6 1 7 1 15 1-23 1 38 1 20 1-25 1 30 1-22 1 30 1-21 1 8 1 3 1 11 1-14 1 3 1-61 1 83 1-10 1-28 1-36 1 22 1 2 1-17 1-18 1 11 1 69 1-34 1-5 1 5 1-21 1-8 1 38 1-12 1-18 1-10 1 16 1 18 1 38 1 1 1 22 1 17 1 5 1-44 1-69 1 61 1-12 1 89 1-82 1 56 1-15 1-23 1 54 1-50 1 22 1 0 1 9 1 51 1-22 1-33 1 44 1-7 1-26 1-43 1 78 1-6 1 19 1 5 1-27 1-50 1 44 1-43 1 52 1-40 1-40 1 72 1 55 1-32 1-42 1 57 1 11 1-34 1 38 1 9 1-64 1 24 1-40 1 61 1-33 1 68 1-27 1-33 1 9 1-20 1 19 1 30 1-28 1 15 1-11 1 27 1 34 1-17 1 9 1-11 1-34 1 19 1 8 1 34 1-68 1 35 1 52 1-37 1 38 1-51 1-5 1-1 1 25 1-4 1 18 1-19 1 50 1-21 1-46 1 31 1-34 1 55 1 8 1-49 1-3 1-13 1-4 1 43 1-2 1-11 1 16 1-20 1-1 1 9 1 12 1 1 1-16 1 5 1 48 1-31 1-24 1 4 1 49 1-23 1 20 1-31 1 27 1 13 1-26 1 2 1-18 1 17 1 25 1-35 1 24 1 17 1-22 1 28 1-26 1 25 1-47 1 33 1-38 1 41 1-45 1 6 1-27 1 29 1-9 1 34 1-20 1 37 1 16 1-13 1-44 1 3 1 59 1-14 1-17 1-30 1 36 1 17 1-2 1-1 1 2 1 9 1-29 1 7 1-40 1 57 1-38 1-40 1 0 1 12 1 18 1-33 1 46 1-33 1 21 1-35 1 53 1 7 1 14 1-44 1 24 1-24 1-13 1-11 1 13 1 38 1-32 1 3 1 8 1-17 1 52 1-21 1 1 1-20 1 2 1-25 1-14 1 1 1-13 1 3 1-6 1 18 1 31 1-5 1-22 1-6 1-7 1 29 1-24 1 5 1 40 1 16 1-29 1 12 1-74 1 78 1-66 1 46 1-8 1-59 1 101 1-69 1 29 1 20 1 5 1 13 1 15 1-68 1 19 1-37 1 20 1-1 1-30 1 47 1-20 1 55 1-48 1-35 1 3 1-2 1 2 1-3 1 46 1-14 1-16 1 31 1-29 1 47 1-27 1 22 1-73 1 23 1 46 1-38 1-5 1-43 1 57 1-30 1 2 1 18 1-58 1-19 1-1 1 80 1-84 1 10 1 30 1-14 1-55 1-2 1 2 1 52 1-42 1 57 1 4 1-14 1 62 1-46 1-19 1-50 1 72 1-16 1 5 1-80 1 98 1-35 1-11 1 62 1-84 1-28 1 20 1 24 1 21 1-1 1 11 1 5 1-29 1-75 1-2 1 2 1-9 1-40 1 42 1 27 1-2 1-40 1-1 1-7 1 17 1-34 1 64 1-38 1-41 1 0 1 23 1 93 1-7 1-34 1-17 1-54 1-14 1 51 1-132 1 87 1 20 1 12 1 4 1 10 1-22 1-24 1 6 1-24 1 2 1-1 1 62 1-37 1 11 1-19 1-25 1 36 1-10 1 3 1-43 1 14 1 12 1-8 1 28 1-49 1 80 1-1 1-15 1 13 1-46 1-13 1 19 1-76 1 99 1-41 1 4 1 66 1 27 1-3 1-10 1 24 1 12 1-18 1-27 1 22 1-14 1 28 1 10 1-9 1-37 1 60 1-14 1 2 1 22 1-42 1-16 1 27 1-7 1-65 1 62 1 5 1-8 1-2 1-18 1-44 1 63 1-29 1-7 1 4 1 50 1-12 1 8 1 41 1-88 1 34 1-8 1-30 1 15 1 16 1-4 1 21 1-26 1 6 1-10 1 47 1 11 1-36 1 78 1-61 1 105 1-61 1 22 1 17 1-52 1-25 1 44 1-11 1 4 1 10 1-49 1 37 1-4 1-46 1 13 1-5 1 2 1 22 1-3 1 28 1 63 1-25 1-60 1 84 1-49 1 7 1-2 1 81 1-81 1 15 1-5 1 59 1-59 1 5 1 21 1 54 1-18 1 4 1 22 1-7 1-2 1 15 1-36 1-22 1 22 1 43 1-49 1-43 1 50 1-30 1 5 1-1 1 45 1-11 1 43 1-74 1-9 1 42 1-37 1 41 1 0 1 4 1-21 1 9 1-20 1 19 1-38 1 22 1-5 1-17 1-5 1 39 1-8 1-12 1 25 1-3 1 2 1-41 1 65 1-20 1-7 1 9 1 10 1-44 1 31 1-26 1 25 1-8 1 30 1-37 1 28 1-21 1 26 1-20 1 25 1-19 1-2 1 31 1 11 1 38 1-39 1 1 1-18 1 33 1-40 1 7 1-20 1 29 1-24 1-16 1 40 1 9 1-24 1-22 1 8 1-6 1 59 1-23 1 26 1-19 1-20 1 3 1-30 1 5 1 16 1 27 1-4 1-5 1-10 1-13 1 16 1-39 1 29 1 1 1-6 1-30 1 72 1-69 1 59 1-30 1-20 1-1 1 3 1-4 1 31 1-9 1 11 1-6 1-9 1 41 1-25 1-33 1 41 1 20 1-92 1 32 1-16 1 55 1-72 1 21 1 8 1-20 1 1 1 11 1-25 1 45 1 38 1-81 1 27 1 55 1-68 1 67 1-25 1-49 1-13 1 27 1 10 1-23 1-9 1 4 1-9 1 24 1 32 1 7 1-13 1 17 1-12 1-40 1 49 1-24 1 38 1 19 1-54 1 12 1-18 1 29 1-63 1 22 1-14 1-44 1-6 1 9 1 72 1 10 1-45 1-29 1 62 1 12 1-49 1 6 1-38 1 42 1 29 1-59 1 36 1-35 1-17 1 66 1-64 1 45 1-55 1 63 1 5 1-67 1 45 1-68 1 19 1 0 1 52 1-40 1-22 1 2 1-20 1-6 1-5 1-1 1-31 1 82 1-54 1-25 1-23 1 30 1-27 1 49 1-7 1 18 1 0 1-12 1 16 1-62 1 49 1-57 1 39 1 76 1-81 1 15 1-36 1-5 1 101 1-83 1 37 1-37 1-28 1 9 1 5 1-16 1 45 1-44 1-45 1-16 1 26 1 63 1-32 1 23 1-44 1-9 1 32 1 5 1 14 1-70 1 30 1-12 1 37 1-9 1 10 1-11 1 20 1 0 1-46 1 12 1 14 1-91 1 50 1-19 1 86 1-9 1 2 1-79 1 37 1 24 1 17 1-65 1-6 1 94 1-71 1 17 1-20 1 61 1-2 1 9 1 19 1-25 1-11 1-13 1-36 1 75 1-6 1-2 1-68 1-7 1 105 1-48 1-57 1 38 1-19 1 65 1-3 1 8 1-1 1-1 1 27 1-25 1 29 1-64 1 59 1-38 1 34 1-11 1-8 1 66 1-94 1 11 1-8 1 72 1-60 1 80 1-79 1 1 1 3 1 43 1-34 1 75 1-70 1 5 1 57 1 3 1-9 1-32 1 9 1 4 1 17 1-81 1 48 1-10 1-6 1 7 1 22 1 17 1-40 1 4 1-16 1 37 1-9 1 0 1-5 1-21 1 44 1-47 1 20 1-8 1 46 1-5 1 15 1-14 1-3 1 72 1-4 1-21 1-40 1-45 1 47 1-3 1 15 1 45 1-34 1 61 1-80 1 23 1 17 1-2 1 41 1-68 1 27 1 10 1-33 1 64 1 7 1-80 1 20 1 35 1-25 1 30 1-51 1 42 1 33 1-74 1 31 1-1 1 8 1-7 1 53 1 6 1 1 1-36 1 7 1 3 1 6 1 34 1-45 1 15 1-32 1-8 1 17 1 32 1 1 1-15 1 17 1-4 1 1 1 50 1-25 1-27 1 53 1-17 1-20 1-39 1 6 1 7 1 46 1-49 1-19 1 12 1 11 1-31 1 29 1 14 1 34 1-53 1-9 1 29 1 10 1 10 1 9 1-15 1 17 1-21 1 26 1-28 1-39 1 57 1-27 1 13 1-10 1 9 1 39 1-25 1 2 1-49 1-5 1 17 1-2 1 7 1 38 1-28 1-20 1-17 1 45 1-26 1 0 1 31 1 1 1 20 1-35 1 11 1-17 1-5 1 34 1-22 1-14 1 25 1 33 1-31 1 51 1-77 1-21 1 37 1-35 1 5 1 22 1-2 1-16 1-10 1 63 1-36 1 8 1-11 1 25 1-34 1-43 1 15 1 23 1-5 1 9 1-10 1 45 1 9 1-20 1 11 1-47 1 9 1-17 1-12 1 41 1-31 1 31 1-5 1-33 1 21 1 45 1-7 1-43 1-15 1 14 1-20 1 5 1-4 1 35 1 5 1-5 1 12 1 5 1 5 1-23 1-42 1 20 1 9 1-37 1 3 1 15 1-20 1 0 1-4 1-26 1 16 1-25 1 20 1 28 1-10 1 2 1 21 1 19 1-44 1 27 1 47 1 2 1-9 1-3 1-44 1-21 1 30 1-27 1-49 1 42 1-5 1-37 1 5 1 29 1-64 1 23 1 65 1-12 1-94 1 29 1 10 1-35 1 45 1-43 1 64 1-12 1 0 1-45 1-1 1-21 1 19 1 52 1-12 1-110 1 15 1-18 1 70 1-30 1-50 1 100 1-1 1-25 1-79 1-5 1 29 1-13 1-16 1-18 1 52 1-32 1 69 1-43 1 24 1-44 1 45 1 7 1 8 1-54 1-1 1 22 1-48 1-15 1 49 1 3 1 3 1-20 1-25 1 21 1 1 1-9 1-39 1 73 1-59 1 10 1 39 1-76 1 88 1-92 1 38 1 21 1 21 1-13 1 22 1-39 1-49 1-9 1 55 1 33 1-91 1 83 1-77 1 47 1-12 1-9 1 17 1-11 1-19 1 61 1-62 1 47 1 27 1-57 1-14 1-9 1 36 1-30 1 4 1 83 1-70 1 12 1 5 1-1 1-2 1 19 1-30 1 5 1 95 1-78 1 67 1-97 1 7 1-10 1 16 1 70 1-68 1 82 1-81 1-10 1 20 1-14 1 68 1-7 1-13 1 33 1 56 1-47 1 54 1-10 1 13 1-1 1 6 1-2 1 14 1 4 1-4 1-31 1-23 1 10 1-83 1 15 1 23 1 92 1 0 1 18 1-8 1-55 1 91 1-22 1-42 1 50 1-10 1-62 1 20 1 12 1 3 1 10 1 38 1-20 1-35 1-9 1 52 1-102 1 103 1-2 1-62 1 16 1 22 1 14 1-64 1 33 1 15 1 71 1-52 1 32 1 8 1-30 1 45 1-26 1 10 1-25 1 55 1-53 1 39 1 7 1-11 1-14 1 15 1-51 1 14 1 51 1-52 1 45 1-3 1-22 1-63 1 82 1 29 1-3 1-78 1 24 1-3 1 66 1-5 1 18 1 0 1-29 1-39 1 42 1 14 1 13 1-22 1 17 1-7 1 16 1-24 1 27 1-34 1-43 1 10 1 44 1-25 1 8 1 14 1-17 1-10 1 21 1-18 1 12 1 24 1-9 1-6 1 22 1 6 1-27 1-25 1 61 1-17 1 10 1-35 1 45 1-17 1 33 1-15 1 4 1-59 1 17 1-11 1-19 1 59 1-16 1-35 1 11 1 2 1-32 1 60 1-9 1-4 1-36 1-19 1 61 1-59 1 58 1-41 1 17 1 9 1 8 1-5 1-18 1 30 1-23 1 11 1-1 1-19 1 61 1 24 1-31 1-14 1-46 1 46 1 6 1 6 1-16 1-33 1 3 1-11 1-17 1 85 1-25 1 18 1-6 1-3 1-9 1-45 1 8 1-3 1 23 1-1 1-38 1 6 1 28 1-9 1-8 1 57 1-75 1 18 1 14 1-10 1 12 1-13 1 4 1 42 1-15 1 3 1 0 1 1 1 12 1-66 1 14 1 38 1-49 1 0 1-2 1-7 1-1 1 23 1 23 1-42 1-4 1 43 1-40 1-10 1-44 1 43 1-46 1 54 1-35 1-7 1-8 1 56 1 35 1-29 1 8 1-18 1-36 1 2 1 24 1 36 1-36 1-6 1-61 1-1 1 42 1-54 1 16 1 25 1 22 1 4 1 20 1-1 1 24 1-2 1-56 1 48 1-45 1-47 1 85 1-41 1 14 1 27 1 10 1-54 1-15 1 8 1-52 1 11 1-5 1 33 1-12 1-27 1 4 1-28 1 27 1-27 1-50 1 50 1 55 1-37 1 68 1-24 1-43 1 25 1-54 1-9 1 72 1-39 1 24 1-36 1 2 1-33 1-43 1 37 1 35 1-68 1 19 1 2 1 21 1-21 1-46 1 45 1-51 1 45 1 24 1-55 1 46 1-64 1 67 1-15 1-38 1 46 1 26 1-18 1-57 1 35 1-27 1 32 1 17 1-2 1 15 1-22 1-41 1-14 1 9 1 34 1-40 1-31 1 11 1 49 1-41 1 42 1 1 1-65 1 54 1-3 1-26 1 37 1-19 1 6 1-48 1 5 1 25 1-24 1-13 1 20 1 53 1-6 1 5 1-68 1 10 1 1 1 15 1 26 1 23 1-16 1 38 1-46 1-19 1 31 1 10 1 36 1-16 1 31 1-22 1-67 1 86 1-17 1 10 1 26 1-46 1-15 1-8 1-9 1 19 1 39 1-10 1 59 1-26 1-31 1 39 1-36 1 16 1-25 1 21 1 50 1-51 1-2 1-66 1 28 1 25 1-14 1 18 1-6 1 65 1-36 1-27 1 0 1 51 1-41 1-33 1 80 1-19 1-15 1 14 1 19 1 6 1 60 1-31 1-38 1 27 1-60 1 95 1-89 1 17 1-29 1 77 1 8 1-64 1-9 1 35 1-45 1 14 1 27 1 5 1 3 1 30 1 36 1-25 1-30 1-4 1 3 1-21 1 71 1-62 1 83 1-40 1-5 1 12 1 39 1-56 1 4 1 6 1 56 1 2 1 37 1 0 1 9 1-77 1 63 1-6 1 6 1-10 1-26 1 9 1 30 1-42 1 43 1-57 1 41 1-1 1-10 1-14 1-27 1 20 1 60 1-37 1-43 1 38 1 23 1-14 1 7 1 13 1-33 1 43 1 18 1-49 1-38 1 4 1 46 1 11 1-43 1 7 1 65 1-58 1-14 1 72 1-32 1-9 1 21 1-38 1-2 1-8 1 65 1-19 1-10 1 28 1 6 1-52 1 27 1 8 1 24 1-19 1 15 1-36 1 28 1-5 1-23 1-34 1 26 1-9 1 8 1 13 1-18 1 25 1-22 1 18 1 17 1-64 1 13 1-6 1 66 1-44 1-4 1 17 1 8 1 32 1-11 1-58 1 27 1-40 1 4 1 45 1 1 1 28 1-38 1 6 1-21 1 11 1-1 1 19 1 43 1-49 1-20 1 53 1-44 1 46 1 3 1-16 1-28 1 19 1-14 1-20 1 42 1-55 1 24 1 6 1-35 1 5 1-29 1 23 1 32 1-19 1 36 1-28 1 6 1-29 1 4 1-11 1 1 1-4 1 46 1-21 1 3 1-1 1 14 1 18 1 4 1-5 1-23 1-11 1 29 1-8 1-27 1 28 1-54 1-17 1 47 1 10 1-9 1-9 1-13 1-18 1 51 1 0 1-3 1-41 1-9 1-18 1 25 1 0 1 13 1-36 1 78 1-21 1-49 1 16 1-27 1 22 1 21 1-5 1-65 1 22 1 9 1-17 1-12 1 83 1 23 1-20 1-81 1-14 1-15 1 2 1-8 1-18 1 29 1 35 1 29 1 21 1-111 1 26 1 13 1-44 1 52 1-43 1 34 1 11 1-32 1 53 1-54 1-26 1 28 1-46 1 17 1-60 1 9 1 7 1 8 1 62 1-74 1 27 1 53 1-56 1 55 1-43 1 23 1-8 1-8 1-43 1-13 1-46 1-2 1 53 1-32 1 63 1-68 1 8 1 20 1-2 1 9 1 35 1-29 1-19 1 33 1-58 1-8 1 39 1 32 1-62 1-13 1 27 1-42 1 64 1-29 1-26 1-24 1 71 1 41 1-99 1 16 1-28 1 4 1 82 1-21 1-12 1-4 1-44 1 62 1 5 1-75 1 53 1 8 1-26 1 27 1 30 1-35 1 21 1-49 1 17 1-19 1-4 1 68 1 12 1-32 1 23 1-13 1-25 1-3 1-11 1-28 1-8 1-3 1 7 1 28 1-12 1 22 1 1 1-1 1 1 1 64 1 31 1-12 1-13 1-15 1-14 1 10 1 4 1-44 1 50 1 23 1 30 1-28 1 28 1-3 1-37 1 13 1 2 1-76 1 31 1 9 1 11 1-16 1-40 1 28 1 57 1-2 1-27 1 67 1 10 1-79 1 3 1 113 1-18 1 8 1-101 1-17 1-4 1 30 1 9 1-10 1 8 1-6 1-20 1 7 1 27 1-9 1 37 1 1 1-55 1 75 1 34 1 25 1-57 1 23 1-4 1 48 1-2 1 19 1-60 1 33 1-19 1-18 1 74 1-85 1 33 1 10 1-32 1-10 1 49 1-3 1 37 1-24 1 37 1-70 1 55 1-62 1 50 1-29 1-23 1 20 1 28 1-82 1 34 1 6 1 14 1 20 1-57 1 32 1 9 1 25 1-6 1 10 1-14 1 28 1-64 1 47 1-49 1 7 1 15 1 17 1 9 1-27 1 99 1-60 1-2 1 51 1-58 1-15 1 28 1 41 1-55 1 25 1 20 1 14 1-22 1 11 1-6 1-14 1 32 1 24 1-25 1-2 1-57 1 65 1-36 1-16 1 12 1 3 1-28 1 32 1 18 1-40 1 55 1-46 1 76 1-98 1 34 1-17 1 15 1 51 1-33 1 10 1-7 1 30 1-49 1 19 1 22 1-11 1-12 1-21 1 6 1 10 1-21 1 12 1-11 1 18 1 33 1-37 1 15 1-23 1 27 1-4 1-45 1-1 1-10 1 32 1-9 1 14 1-27 1 16 1 69 1-69 1-24 1 0 1 2 1-6 1 36 1 40 1 4 1-6 1-36 1 52 1-53 1-5 1 12 1 3 1-3 1 1 1 20 1-33 1 10 1-2 1-17 1-4 1-18 1 37 1 3 1-13 1 58 1-36 1-18 1-21 1 67 1-47 1 25 1-8 1 2 1-19 1 22 1-28 1-5 1 12 1 29 1-62 1 88 1-114 1 39 1 0 1 3 1-40 1 5 1-22 1 85 1-52 1-33 1-4 1 32 1-14 1-28 1 28 1-19 1 37 1-21 1 5 1 25 1 31 1-9 1-39 1 0 1-6 1 13 1-36 1 47 1-40 1 0 1 3 1 64 1-26 1-26 1-10 1 40 1-38 1-8 1-15 1 41 1-5 1 45 1-74 1-24 1 23 1-2 1 67 1-46 1 20 1-44 1 33 1-82 1 25 1-4 1-48 1 19 1 31 1-57 1 32 1 81 1-75 1-16 1 48 1-11 1-17 1-49 1 11 1 6 1-3 1 36 1 31 1 12 1-77 1 51 1-73 1-38 1 74 1-15 1 21 1-13 1 14 1-36 1 15 1-32 1-35 1 31 1 15 1 34 1 43 1-101 1 3 1 12 1-4 1 9 1-31 1-25 1 47 1-29 1 88 1-45 1-14 1 1 1-12 1 43 1-10 1-24 1 30 1-85 1 45 1-21 1 27 1-22 1-29 1-4 1 48 1-29 1 66 1-26 1-14 1 18 1-23 1-4 1 10 1 6 1-84 1 21 1 48 1 3 1 20 1-84 1-12 1 7 1 68 1-7 1-55 1 27 1 71 1-69 1-14 1 70 1 32 1-11 1 9 1-108 1 40 1 34 1 27 1 26 1-13 1-51 1 16 1 2 1-25 1 26 1-38 1 18 1 34 1 9 1 30 1-46 1-11 1 19 1-42 1 73 1-81 1 93 1-51 1-1 1 28 1 65 1 8 1-31 1-55 1 56 1-62 1 33 1-20 1 28 1 10 1 32 1-71 1-3 1 22 1 27 1-46 1 51 1-47 1 27 1 54 1-22 1 48 1-36 1-40 1-38 1 34 1-10 1-21 1 24 1 11 1 92 1-79 1 25 1 36 1-3 1 28 1-8 1 4 1-19 1-20 1 63 1-57 1-17 1-19 1 66 1-27 1-18 1 20 1-28 1-33 1-8 1 39 1-37 1 17 1 21 1 11 1-7 1 85 1 7 1-20 1-28 1-42 1 108 1-65 1-15 1 55 1 7 1 9 1-14 1-34 1-62 1 25 1 37 1 12 1 14 1 30 1-21 1-29 1 31 1-43 1-24 1-11 1 52 1-19 1 11 1 37 1-53 1 31 1 38 1 8 1-17 1-11 1-1 1 54 1-34 1-10 1 3 1-38 1 22 1-3 1 27 1 22 1-37 1 30 1-64 1-6 1 49 1 16 1-40 1 68 1-73 1 32 1-21 1 17 1 25 1-18 1 19 1 2 1-5 1 26 1 6 1-10 1-11 1-41 1-27 1 46 1-60 1 37 1-14 1 24 1-11 1-13 1 6 1 3 1-2 1 4 1 0 1 1 1 11 1 34 1-22 1-43 1-15 1 21 1 15 1 61 1-51 1-17 1-9 1 27 1 1 1-19 1 40 1-14 1-5 1-14 1 26 1-36 1-5 1 18 1-15 1-5 1 27 1 5 1 10 1 9 1-65 1-1 1-10 1-1 1 10 1 19 1-17 1 20 1-38 1 27 1-31 1 14 1 30 1-7 1 29 1-1 1-47 1-10 1 57 1-38 1 1 1-2 1-20 1 42 1-20 1 1 1 21 1 2 1 11 1 1 1 19 1 5 1-2 1-51 1-23 1 6 1 17 1 14 1-7 1-40 1 11 1-18 1-11 1-13 1 50 1-23 1-29 1 45 1 55 1-7 1 14 1-50 1 35 1 2 1-18 1 20 1-67 1 18 1-23 1 62 1-14 1 3 1-69 1 11 1 15 1 36 1-65 1 60 1 1 1 10 1-43 1 20 1 30 1-23 1 5 1-45 1-1 1 31 1-2 1-89 1-18 1-4 1-9 1 65 1-19 1 13 1-7 1-12 1 34 1 18 1-73 1 12 1 42 1 5 1-28 1-41 1-30 1 41 1 27 1-46 1 53 1-110 1 45 1 77 1-55 1 1 1-5 1-22 1 77 1-23 1-37 1-22 1 52 1 5 1 10 1-29 1-53 1 14 1 0 1-60 1 21 1 58 1 11 1-17 1-8 1 12 1-1 1-41 1 21 1-17 1 39 1-24 1 10 1 27 1-28 1 20 1-52 1 43 1-28 1 16 1-12 1-4 1 19 1-32 1 7 1 30 1-53 1 8 1-28 1 50 1-90 1 49 1 17 1-54 1-2 1 70 1 1 1-64 1 59 1-59 1 16 1 37 1-1 1-7 1 33 1-62 1 3 1 16 1-8 1 61 1-42 1 53 1 11 1-5 1-85 1 22 1-8 1-2 1 18 1 28 1-16 1-44 1 66 1-11 1 33 1-16 1 10 1 31 1-42 1 22 1-37 1 8 1-36 1-17 1 15 1 105 1-43 1-7 1-3 1-24 1-14 1 31 1 50 1-26 1 0 1-27 1 44 1-34 1-41 1 67 1-43 1 14 1 68 1-57 1 30 1 10 1 48 1 8 1 14 1 0 1-13 1-8 1 12 1-125 1 50 1-26 1 13 1 80 1-91 1 0 1 24 1-25 1 23 1-8 1 54 1 7 1-31 1-24 1 41 1-2 1-36 1 48 1-26 1 58 1 23 1 23 1-14 1 28 1-4 1-8 1 18 1-21 1-6 1-33 1-17 1 24 1-41 1 1 1 37 1 41 1-63 1 25 1 44 1-8 1-8 1-42 1 46 1-14 1 40 1-44 1-3 1 5 1-16 1 15 1-6 1 46 1 16 1-16 1 5 1-20 1 14 1-18 1-22 1-1 1-27 1 83 1-46 1-25 1 75 1-10 1-40 1 63 1-30 1-22 1 57 1-34 1-36 1 8 1 35 1-6 1 10 1-20 1 7 1 9 1-22 1 40 1-62 1 43 1-13 1 38 1-19 1-1 1-4 1 6 1-25 1-15 1 49 1-35 1 28 1 12 1-18 1-27 1 0 1 28 1-42 1 11 1 13 1-29 1 18 1-25 1 18 1 2 1 4 1 43 1-52 1 18 1 29 1-7 1-28 1 11 1 1 1-21 1 59 1-6 1-76 1 38 1 13 1-17 1 20 1-8 1 24 1-41 1 34 1-45 1 5 1 24 1 7 1-19 1 20 1 1 1-15 1 3 1 12 1-7 1-19 1-11 1 57 1-44 1 21 1-41 1 55 1-33 1-12 1 60 1-42 1 27 1-43 1 12 1-40 1-12 1 22 1 8 1-22 1 31 1-31 1-5 1 27 1-10 1 1 1 7 1 46 1-36 1 5 1 23 1 23 1 4 1-43 1-31 1-7 1-39 1 25 1 37 1-14 1-26 1-18 1-3 1 47 1-16 1-35 1 47 1-13 1 38 1 21 1 6 1-9 1-8 1 20 1-4 1 1 1 1 1-43 1-7 1 42 1-50 1-7 1 14 1 15 1-7 1 21 1-55 1-20 1 39 1-12 1 1 1-46 1-21 1-11 1 27 1-18 1-12 1 14 1 70 1-5 1-55 1 61 1-48 1-51 1 62 1-50 1 30 1-16 1 32 1-6 1-29 1 29 1-39 1-42 1 67 1 29 1-9 1-100 1 31 1-2 1-53 1 8 1 11 1 3 1-2 1-15 1 43 1 25 1-16 1-38 1 26 1 14 1-20 1-7 1-32 1-12 1 106 1 4 1 2 1-81 1 53 1-89 1 1 1 33 1-39 1 85 1-30 1 24 1 6 1-4 1-3 1-64 1 69 1-80 1 28 1 27 1-55 1 24 1 6 1-59 1 54 1 6 1-11 1-35 1 25 1-26 1 65 1-40 1 18 1-13 1-43 1 68 1-7 1-37 1-41 1 4 1 4 1 40 1-27 1-36 1 43 1-2 1 34 1-9 1 13 1-78 1 75 1-137 1 175 1-6 1-63 1 25 1 5 1-36 1 18 1-10 1 52 1-49 1 71 1-74 1 9 1-4 1 60 1-17 1 40 1-33 1-46 1 41 1-4 1 67 1 9 1-3 1-12 1-42 1-51 1 92 1-6 1 29 1-45 1-34 1 6 1 57 1-27 1 59 1 1 1 8 1-1 1 7 1 11 1-47 1-2 1 7 1-51 1 21 1 33 1 6 1-50 1 6 1 17 1-15 1 15 1-4 1 12 1 36 1-30 1 41 1-42 1-33 1-12 1 37 1-10 1 47 1 52 1-30 1-85 1 38 1 19 1 70 1 16 1-76 1 14 1 48 1-5 1-20 1-31 1-15 1-9 1 17 1-26 1 120 1 1 1-97 1 3 1 12 1 24 1-41 1 7 1 19 1-30 1-27 1 46 1 22 1-4 1 5 1 26 1-20 1-20 1 4 1 73 1-110 1 48 1 16 1-3 1-49 1 40 1 45 1 27 1-37 1 28 1-23 1 2 1 35 1-5 1-27 1 34 1-21 1-42 1 19 1-17 1 5 1-32 1 24 1 13 1-3 1-7 1 50 1-44 1-11 1 19 1 1 1-11 1 4 1 17 1-2 1 27 1-17 1 14 1 8 1-20 1-8 1 2 1 43 1-30 1 5 1-31 1 58 1-51 1 9 1 7 1 4 1 54 1-20 1-37 1-7 1 52 1-25 1-6 1-2 1-23 1-8 1 13 1 24 1-12 1 2 1-38 1 49 1-45 1 48 1 19 1-36 1 41 1-4 1-3 1-73 1 74 1-51 1 31 1-28 1-8 1-28 1 7 1 13 1-11 1 27 1 40 1-23 1-12 1-8 1-2 1 17 1-16 1-12 1 66 1-59 1 4 1 1 1 7 1 1 1 8 1 14 1-7 1-27 1 3 1 15 1-18 1-4 1 30 1-39 1-2 1 7 1 16 1 20 1-13 1 19 1-27 1 4 1 7 1-1 1-22 1-2 1 20 1-1 1-8 1 7 1-61 1 29 1 26 1-35 1 4 1 9 1 22 1 33 1-79 1 69 1-14 1-34 1 0 1 40 1 13 1-36 1-55 1 28 1-15 1-27 1 21 1-10 1 62 1-60 1 13 1-8 1-1 1-32 1 33 1 5 1-57 1 16 1-12 1 27 1 2 1-28 1-4 1 29 1 18 1-6 1 26 1 57 1-105 1-10 1 58 1-17 1-45 1 69 1-46 1 31 1-36 1 6 1-3 1-20 1 32 1-57 1-14 1 68 1-77 1 83 1 1 1-26 1 2 1 6 1 25 1 15 1 15 1 2 1-10 1-81 1-11 1 47 1-26 1-8 1 42 1-23 1-15 1-9 1 43 1-28 1 32 1-59 1 49 1-1 1-52 1-75 1 30 1-6 1-12 1-18 1 55 1 4 1-72 1 45 1-38 1 25 1-14 1 72 1-30 1 4 1-8 1 31 1-86 1-4 1 38 1-49 1 22 1 14 1 63 1-23 1-63 1-8 1 72 1 5 1-43 1 24" stroke="#8E2290" vector-effect="non-scaling-stroke"/>
<path d="M0 176l1-19 1-23 1 1 1-6 1 6 1 5 1-13 1 41 1 29 1-13 1 2 1-9 1-24 1 28 1-6 1 10 1 10 1-35 1 22 1 1 1-12 1-40 1 78 1-37 1-36 1 33 1-21 1-12 1 42 1 18 1-53 1 5 1 29 1 14 1 46 1-19 1 3 1-76 1 18 1 58 1-43 1-28 1 1 1-1 1 17 1 21 1 45 1-63 1 44 1-46 1-11 1 28 1-20 1 84 1-37 1 35 1 26 1 16 1-4 1 0 1-39 1 18 1-15 1 53 1-72 1 16 1-22 1 12 1-22 1 48 1 36 1-57 1 60 1-7 1-50 1 63 1 22 1-31 1-91 1 125 1-109 1 108 1 2 1-18 1 21 1-24 1 1 1 0 1-53 1 56 1-69 1-2 1-5 1-7 1 45 1 65 1-76 1-6 1-18 1 67 1 36 1-59 1-23 1 25 1 7 1-28 1 60 1-14 1-6 1-2 1 2 1 47 1-95 1 57 1-24 1 20 1 25 1-1 1 40 1-41 1 25 1-15 1 8 1-34 1-8 1 91 1-50 1-2 1 2 1 56 1-102 1 31 1 24 1-6 1-12 1 30 1 26 1-18 1 31 1-64 1 2 1 60 1-63 1 0 1-13 1-4 1 9 1 2 1 46 1 14 1-2 1-6 1-14 1-3 1 24 1-36 1 47 1 4 1-1 1-39 1 31 1 2 1 15 1-40 1-30 1-4 1 36 1-14 1 44 1 13 1-35 1 22 1-31 1-40 1 35 1-22 1 62 1-39 1 4 1 11 1-7 1-9 1 38 1-37 1-8 1 5 1 26 1-14 1-9 1 44 1 13 1-30 1 27 1 1 1 1 1-30 1-30 1 12 1 1 1 36 1-40 1 35 1-9 1-15 1-22 1-17 1 72 1-23 1-14 1 2 1-13 1 9 1-20 1 43 1 4 1-18 1-15 1 27 1-45 1-23 1 19 1 7 1 43 1-4 1-29 1 54 1-57 1-9 1-12 1 76 1-14 1-28 1 1 1 16 1-40 1-13 1 57 1-27 1-10 1 5 1 14 1 13 1 16 1 7 1-11 1-40 1-24 1 52 1-3 1-38 1-43 1 40 1 26 1-23 1-34 1 44 1 9 1-52 1 30 1 26 1-33 1 28 1-55 1 28 1-36 1 6 1 70 1-53 1-21 1 49 1-24 1-47 1 59 1-20 1 17 1-4 1 45 1-59 1 6 1 54 1-101 1-7 1 25 1 12 1-8 1 34 1-11 1 6 1-14 1 49 1-78 1-7 1-6 1-22 1 63 1 25 1-69 1 23 1-25 1-44 1 108 1-97 1 21 1-47 1 13 1-37 1 62 1-54 1 14 1-19 1 7 1 21 1-22 1 25 1-22 1-18 1-13 1-5 1-7 1 3 1 15 1 82 1-1 1-18 1-77 1 32 1-19 1 34 1 4 1 4 1-50 1 59 1-80 1 34 1 39 1-42 1 51 1-53 1 55 1-72 1-11 1 16 1 23 1-5 1 0 1-29 1 53 1 7 1-25 1 18 1-27 1 21 1-72 1 49 1 20 1-38 1 4 1-47 1 1 1 20 1-28 1 23 1 28 1-12 1 19 1-18 1-39 1 6 1-16 1 7 1 9 1 23 1-24 1 36 1 30 1-39 1 24 1-14 1 22 1-24 1 8 1 7 1 12 1-18 1-3 1-53 1 83 1-7 1-29 1-44 1 42 1-6 1-5 1-15 1 1 1 62 1-38 1-9 1 10 1-28 1 0 1 24 1-13 1-14 1 0 1 15 1 16 1 44 1 9 1 22 1 12 1 3 1-48 1-60 1 37 1 0 1 76 1-67 1 55 1-17 1-33 1 52 1-55 1 28 1-10 1 13 1 55 1-24 1-38 1 38 1 11 1-39 1-24 1 66 1 7 1 18 1 19 1-15 1-64 1 35 1-46 1 58 1-50 1-25 1 59 1 64 1-35 1-42 1 49 1 18 1-31 1 25 1 14 1-61 1 25 1-39 1 53 1-29 1 81 1-35 1-33 1 23 1-21 1 12 1 20 1-31 1 21 1-12 1 33 1 33 1-24 1 1 1-14 1-15 1 12 1 19 1 25 1-67 1 36 1 46 1-25 1 33 1-36 1-15 1-13 1 21 1 0 1 7 1-15 1 39 1-10 1-36 1 13 1-23 1 58 1 9 1-46 1-4 1-13 1-13 1 55 1-7 1-7 1 12 1-13 1 6 1 1 1 11 1 4 1-17 1 6 1 33 1-26 1-13 1 5 1 45 1-21 1 12 1-34 1 14 1 13 1-15 1-2 1-1 1-2 1 35 1-34 1 17 1 39 1-28 1 29 1-21 1 21 1-39 1 29 1-38 1 38 1-46 1 6 1-28 1 40 1-15 1 18 1 6 1 30 1 2 1-16 1-30 1-6 1 51 1-15 1-8 1-40 1 41 1 11 1-5 1-1 1 1 1 14 1-35 1 16 1-27 1 41 1-43 1-26 1-1 1 19 1 9 1-26 1 39 1-28 1 20 1-26 1 49 1-5 1 12 1-31 1 24 1-35 1-10 1-16 1 24 1 30 1-25 1 9 1-1 1-20 1 58 1-20 1-1 1-31 1 19 1-34 1-9 1-3 1-8 1 9 1-6 1 15 1 18 1-4 1-10 1-17 1 2 1 33 1-27 1 9 1 37 1 18 1-28 1 13 1-68 1 73 1-69 1 45 1-24 1-37 1 92 1-67 1 21 1 32 1-12 1 12 1 13 1-72 1 30 1-42 1 23 1 6 1-36 1 45 1-15 1 51 1-43 1-40 1 8 1-3 1 2 1-11 1 46 1-9 1-14 1 48 1-37 1 52 1-40 1 33 1-81 1 25 1 42 1-38 1-10 1-29 1 50 1-35 1-2 1 23 1-68 1-17 1 7 1 73 1-87 1 10 1 32 1-31 1-32 1-6 1-7 1 53 1-32 1 49 1-1 1-14 1 78 1-57 1-20 1-38 1 82 1-12 1-3 1-92 1 102 1-32 1-24 1 55 1-76 1-34 1 25 1 31 1 15 1 7 1 5 1 15 1-21 1-84 1 2 1 1 1-3 1-33 1 34 1 18 1 6 1-44 1 6 1 5 1 16 1-39 1 56 1-31 1-44 1-3 1 16 1 92 1-8 1-38 1-13 1-55 1-7 1 54 1-138 1 88 1 27 1 8 1 3 1 7 1-19 1-27 1 2 1-15 1 1 1 3 1 44 1-24 1 21 1-18 1-27 1 37 1-7 1 2 1-38 1 1 1 15 1-11 1 27 1-33 1 68 1-15 1-4 1 2 1-38 1-11 1 23 1-86 1 109 1-44 1 5 1 55 1 29 1-3 1-16 1 22 1 15 1-12 1-27 1 28 1-20 1 18 1 16 1-16 1-32 1 62 1-17 1-6 1 29 1-42 1-18 1 36 1-20 1-61 1 66 1 7 1 3 1-17 1-12 1-40 1 61 1-26 1 3 1-4 1 55 1-12 1 1 1 34 1-86 1 33 1-5 1-33 1-1 1 40 1-15 1 32 1-22 1-2 1 4 1 30 1 17 1-34 1 75 1-61 1 105 1-58 1 15 1 27 1-72 1 1 1 33 1-4 1-14 1 29 1-52 1 20 1 7 1-34 1-3 1-2 1 9 1 33 1 1 1 17 1 72 1-20 1-61 1 70 1-52 1 2 1-3 1 76 1-78 1 15 1-3 1 54 1-55 1-6 1 13 1 71 1-30 1 14 1 7 1-9 1-3 1 17 1-39 1-20 1 22 1 46 1-53 1-42 1 57 1-22 1 9 1-3 1 47 1-16 1 39 1-86 1 6 1 44 1-33 1 34 1-10 1 4 1-15 1 15 1-16 1 16 1-26 1 14 1-6 1-20 1 4 1 39 1-16 1-12 1 29 1-2 1 7 1-34 1 69 1-26 1 0 1 6 1 21 1-42 1 29 1-36 1 26 1-20 1 23 1-31 1 25 1-29 1 39 1-24 1 14 1-13 1-9 1 22 1 23 1 44 1-30 1-3 1-6 1 17 1-39 1 19 1-26 1 29 1-12 1-11 1 31 1-1 1-32 1-6 1 8 1-19 1 61 1-29 1 26 1-12 1-26 1 16 1-39 1-7 1 32 1 22 1 3 1-19 1 0 1-20 1 25 1-41 1 22 1 1 1 4 1-29 1 59 1-62 1 52 1-26 1-18 1 0 1 9 1-14 1 40 1-21 1 21 1-7 1-8 1 42 1-36 1-40 1 50 1 18 1-67 1 31 1-15 1 48 1-70 1 18 1 7 1-12 1-16 1 20 1-31 1 47 1 46 1-97 1 27 1 41 1-57 1 59 1-24 1-32 1-9 1 14 1 10 1-39 1-2 1 5 1-3 1 25 1 27 1 3 1-6 1 11 1-18 1-38 1 50 1-27 1 32 1 30 1-57 1 12 1-22 1 45 1-45 1 17 1-19 1-38 1 2 1 12 1 63 1 4 1-27 1-36 1 66 1 5 1-45 1 3 1-37 1 30 1 26 1-60 1 32 1-35 1-23 1 72 1-63 1 39 1-57 1 59 1-2 1-50 1 30 1-57 1 37 1-11 1 42 1-32 1-31 1 1 1-6 1 4 1-4 1-17 1-23 1 81 1-62 1-17 1-22 1 27 1-30 1 53 1-11 1 11 1 5 1-14 1 11 1-61 1 57 1-56 1 38 1 69 1-91 1 30 1-36 1-7 1 95 1-74 1 37 1-33 1-2 1 13 1-5 1-27 1 38 1-42 1-38 1 0 1 11 1 64 1-38 1 15 1-35 1-20 1 35 1 0 1 12 1-50 1 25 1-5 1 39 1-17 1 16 1-2 1 10 1 5 1-51 1 7 1 29 1-115 1 62 1-20 1 82 1-19 1 21 1-85 1 24 1 20 1 21 1-72 1 16 1 83 1-73 1 32 1-17 1 41 1 1 1 0 1 22 1-22 1-5 1-24 1-26 1 73 1-7 1 8 1-73 1-13 1 99 1-39 1-51 1 38 1-29 1 74 1-19 1 12 1-2 1-7 1 30 1-20 1 27 1-52 1 52 1-50 1 40 1-24 1-4 1 79 1-95 1 21 1-3 1 70 1-57 1 59 1-80 1 12 1 2 1 48 1-28 1 73 1-67 1 5 1 55 1-3 1-10 1-39 1 4 1 7 1 18 1-80 1 48 1-4 1-23 1 11 1 30 1 8 1-31 1 15 1-15 1 23 1 13 1-1 1 1 1-32 1 34 1-35 1 10 1-5 1 48 1-10 1 11 1-18 1-5 1 81 1-12 1-2 1-49 1-34 1 49 1-17 1 26 1 47 1-44 1 61 1-82 1 22 1 10 1-4 1 36 1-67 1 36 1 14 1-27 1 69 1 3 1-82 1 14 1 36 1-33 1 36 1-46 1 34 1 32 1-70 1 24 1 14 1 10 1-8 1 43 1 6 1-3 1-30 1-4 1 10 1-7 1 38 1-43 1 10 1-30 1 2 1 19 1 16 1-1 1-8 1 20 1-11 1-13 1 55 1-24 1-32 1 66 1-13 1-22 1-28 1 19 1 4 1 44 1-43 1-21 1 18 1 11 1-34 1 31 1 19 1 15 1-49 1-2 1 21 1 13 1 21 1 3 1-12 1 14 1-29 1 28 1-24 1-30 1 50 1-29 1-3 1-4 1 7 1 29 1-17 1-2 1-28 1-19 1 16 1 8 1 2 1 44 1-40 1-12 1-14 1 36 1-15 1 1 1 24 1-5 1 21 1-47 1 10 1-18 1-3 1 45 1-18 1-22 1 23 1 31 1-27 1 58 1-80 1-18 1 30 1-27 1 4 1 8 1 4 1-1 1-22 1 64 1-25 1 7 1-8 1 32 1-38 1-34 1 3 1 22 1-10 1 3 1 1 1 36 1 3 1-14 1 1 1-49 1 17 1-15 1-14 1 58 1-43 1 35 1 4 1-38 1 14 1 38 1 4 1-56 1 4 1 10 1-13 1-11 1 5 1 25 1 8 1-2 1 3 1 12 1-3 1-22 1-30 1 10 1 15 1-35 1 0 1 22 1-33 1 9 1-1 1-33 1 29 1-37 1 23 1 30 1-9 1 7 1 14 1 20 1-50 1 23 1 38 1 0 1-6 1 3 1-43 1-14 1 15 1-21 1-44 1 42 1-6 1-41 1 6 1 36 1-62 1 23 1 66 1-20 1-96 1 46 1 2 1-35 1 40 1-50 1 55 1-10 1 5 1-31 1 3 1-17 1 18 1 46 1-5 1-119 1 9 1-7 1 78 1-38 1-49 1 100 1-15 1-11 1-80 1-3 1 20 1-5 1-13 1-19 1 64 1-48 1 63 1-37 1 16 1-41 1 50 1 7 1 7 1-60 1-12 1 29 1-50 1-11 1 51 1-18 1 17 1-8 1-22 1 12 1 12 1-14 1-36 1 76 1-63 1 1 1 32 1-64 1 88 1-88 1 39 1 17 1 8 1-14 1 20 1-39 1-45 1 4 1 44 1 36 1-83 1 74 1-77 1 56 1-19 1-10 1 5 1 2 1-29 1 73 1-75 1 49 1 42 1-55 1-25 1 1 1 24 1-21 1-1 1 79 1-74 1 11 1-1 1 6 1-6 1 14 1-22 1 6 1 95 1-70 1 67 1-89 1 15 1-12 1 13 1 64 1-60 1 73 1-80 1 0 1 14 1-13 1 69 1-6 1-7 1 32 1 46 1-42 1 31 1 20 1 8 1-7 1 12 1 0 1 8 1-7 1 5 1-32 1-19 1 16 1-76 1 25 1 15 1 91 1-2 1 5 1-6 1-61 1 75 1-25 1-29 1 60 1-12 1-59 1 20 1 13 1-1 1 18 1 27 1-19 1-33 1-12 1 53 1-96 1 103 1-9 1-67 1 17 1 14 1 17 1-51 1 39 1 15 1 56 1-40 1 23 1 11 1-34 1 49 1-36 1 13 1-30 1 44 1-41 1 41 1-1 1-12 1 1 1 10 1-44 1 4 1 59 1-52 1 49 1-8 1-18 1-44 1 69 1 12 1 5 1-78 1 35 1 2 1 54 1-6 1 19 1-2 1-32 1-30 1 47 1-5 1 22 1-14 1 12 1-29 1 30 1-29 1 26 1-29 1-45 1 3 1 28 1-27 1 17 1 23 1-7 1-15 1 12 1-10 1 6 1 22 1 12 1-9 1 16 1 4 1-24 1-24 1 63 1-25 1 15 1-46 1 42 1-9 1 21 1-2 1 3 1-49 1 31 1-8 1-20 1 52 1-18 1-36 1 6 1 17 1-34 1 49 1 15 1-8 1-29 1-20 1 51 1-73 1 54 1-45 1 19 1 0 1 30 1-11 1-14 1 7 1-5 1 8 1 1 1-22 1 55 1 29 1-24 1-13 1-44 1 22 1 23 1 14 1-14 1-41 1 1 1 7 1-37 1 81 1-25 1 18 1 2 1-19 1 11 1-37 1-1 1-16 1 30 1-10 1-18 1 7 1 7 1-5 1-6 1 50 1-71 1 9 1 17 1-2 1 6 1-6 1 7 1 46 1-10 1 6 1 1 1-9 1 11 1-65 1 19 1 38 1-49 1-7 1 8 1-18 1 7 1 18 1 24 1-37 1-6 1 52 1-47 1-20 1-29 1 36 1-45 1 54 1-31 1-17 1-6 1 42 1 36 1-20 1 7 1-9 1-50 1 6 1 17 1 52 1-51 1-5 1-48 1-9 1 51 1-58 1 6 1 42 1 26 1 0 1 26 1-10 1 26 1-2 1-56 1 50 1-38 1-54 1 73 1-37 1 7 1 30 1 9 1-54 1-16 1 1 1-47 1 16 1 6 1 27 1-6 1-23 1 0 1-40 1 29 1-21 1-37 1 34 1 54 1-32 1 61 1-24 1-44 1 18 1-49 1-18 1 59 1-27 1 18 1-29 1 8 1-26 1-52 1 46 1 20 1-67 1 23 1 0 1 30 1-22 1-38 1 43 1-49 1 48 1 14 1-57 1 54 1-64 1 55 1-6 1-43 1 48 1 23 1-10 1-59 1 29 1-41 1 43 1 9 1-4 1 16 1-17 1-34 1-25 1 18 1 23 1-28 1-31 1 7 1 44 1-46 1 57 1 0 1-64 1 66 1-5 1-29 1 30 1-5 1-3 1-60 1 12 1 38 1-24 1-12 1 17 1 34 1 7 1-5 1-48 1 9 1 4 1 14 1 27 1 15 1-20 1 46 1-49 1-26 1 38 1 14 1 34 1-11 1 13 1-15 1-71 1 76 1-17 1 15 1 21 1-35 1-24 1 14 1-17 1 21 1 34 1-1 1 39 1-17 1-36 1 39 1-30 1 13 1-14 1 21 1 44 1-44 1-8 1-63 1 20 1 38 1-13 1 26 1-18 1 50 1-24 1-23 1 5 1 43 1-41 1-14 1 54 1-22 1-5 1 12 1 17 1-2 1 50 1-24 1-37 1 24 1-53 1 100 1-82 1 10 1-22 1 64 1 2 1-54 1-7 1 32 1-30 1 5 1 32 1 1 1 20 1 21 1 46 1-46 1-43 1 10 1-9 1-30 1 74 1-57 1 104 1-49 1-13 1 14 1 37 1-49 1 13 1 8 1 53 1 0 1 28 1 0 1 1 1-84 1 72 1-18 1 23 1-4 1-15 1-3 1 27 1-50 1 54 1-69 1 33 1 2 1-7 1-23 1-23 1 16 1 71 1-35 1-45 1 32 1 32 1-9 1 3 1 5 1-16 1 26 1 24 1-52 1-40 1 7 1 58 1 17 1-42 1-14 1 56 1-47 1-16 1 83 1-26 1-8 1 14 1-29 1-10 1-4 1 54 1-17 1-3 1 26 1-4 1-31 1 20 1 7 1 21 1-23 1 26 1-43 1 31 1-4 1-25 1-40 1 16 1 5 1 10 1 1 1-5 1 36 1-28 1 11 1 21 1-59 1 5 1-9 1 63 1-40 1-5 1 16 1 9 1 27 1-1 1-68 1 31 1-38 1 13 1 28 1-5 1 30 1-38 1 2 1-20 1 26 1-15 1 20 1 42 1-53 1-18 1 53 1-39 1 44 1 12 1-20 1-22 1 16 1-6 1-15 1 27 1-43 1 26 1 7 1-31 1 0 1-25 1 33 1 34 1-26 1 39 1-21 1-10 1-21 1-1 1-7 1-2 1-5 1 55 1-23 1-2 1 0 1 6 1 15 1 7 1-19 1-15 1-5 1 13 1-1 1-35 1 43 1-54 1-35 1 51 1 6 1-6 1-16 1-12 1-16 1 50 1 3 1-2 1-33 1-11 1-18 1 3 1 3 1 12 1-23 1 71 1-19 1-47 1 20 1-19 1 7 1 25 1-6 1-55 1 16 1 18 1-2 1-20 1 67 1 22 1 0 1-83 1-27 1 0 1-5 1-6 1-33 1 29 1 24 1 36 1 24 1-96 1 24 1 13 1-39 1 50 1-48 1 32 1 11 1-39 1 45 1-45 1-34 1 49 1-57 1 21 1-54 1 0 1 14 1 22 1 57 1-79 1 23 1 59 1-50 1 51 1-34 1 16 1-9 1-22 1-35 1 3 1-51 1-3 1 47 1-24 1 65 1-78 1 17 1 28 1-22 1 5 1 42 1-30 1-18 1 17 1-52 1-7 1 54 1 23 1-54 1-22 1 25 1-39 1 76 1-37 1-28 1-26 1 78 1 20 1-90 1 10 1-17 1-11 1 99 1-28 1-10 1-22 1-40 1 63 1-5 1-66 1 43 1 22 1-31 1 28 1 43 1-32 1 13 1-53 1 16 1-12 1-2 1 57 1 16 1-32 1 28 1-3 1-20 1-5 1-16 1-21 1-20 1-1 1 7 1 30 1-20 1 27 1 2 1 4 1 7 1 49 1 22 1-12 1-26 1 2 1-16 1 11 1 2 1-39 1 48 1 16 1 44 1-36 1 39 1-5 1-34 1 17 1 10 1-84 1 40 1-2 1 16 1-32 1-32 1 30 1 51 1-16 1-29 1 66 1 2 1-76 1 17 1 94 1-10 1 15 1-98 1-12 1 2 1 25 1 4 1-8 1 12 1-12 1-29 1 6 1 30 1-1 1 30 1 6 1-46 1 68 1 27 1 32 1-59 1 23 1-5 1 58 1-18 1 21 1-56 1 27 1-15 1-6 1 75 1-75 1 11 1 7 1-20 1-12 1 52 1-7 1 37 1-35 1 32 1-74 1 72 1-55 1 43 1-27 1-15 1 12 1 22 1-68 1 24 1 12 1 14 1 29 1-61 1 22 1 13 1 24 1-7 1 15 1-14 1 24 1-64 1 52 1-51 1 12 1 3 1 14 1 5 1-22 1 104 1-61 1-3 1 50 1-47 1-7 1 18 1 44 1-57 1 19 1 11 1 20 1-8 1 15 1-19 1-13 1 46 1 5 1-4 1-17 1-48 1 56 1-38 1-12 1 17 1-3 1-29 1 24 1 16 1-36 1 46 1-41 1 69 1-80 1 26 1 0 1 6 1 61 1-32 1 5 1-9 1 26 1-53 1 19 1 26 1-11 1-10 1-15 1 12 1 17 1-31 1 7 1-12 1 7 1 42 1-49 1 24 1-14 1 27 1-11 1-17 1-16 1 1 1 29 1-9 1 12 1-21 1 12 1 43 1-49 1-25 1-6 1 9 1-8 1 37 1 38 1-2 1-1 1-49 1 39 1-42 1-10 1 9 1 2 1-3 1 11 1 14 1-31 1 4 1-4 1-28 1-1 1-8 1 29 1 0 1-11 1 66 1-37 1-14 1-9 1 66 1-52 1 22 1-2 1-6 1-27 1 21 1-25 1 2 1 3 1 40 1-61 1 81 1-112 1 45 1 4 1 10 1-40 1 7 1-32 1 78 1-46 1-27 1-14 1 36 1-11 1-23 1 25 1-27 1 38 1-19 1 1 1 26 1 32 1-1 1-37 1 3 1-7 1 16 1-52 1 48 1-34 1 4 1-8 1 69 1-28 1-30 1-7 1 32 1-30 1 11 1-29 1 42 1-14 1 38 1-84 1-14 1 23 1-5 1 74 1-51 1 17 1-43 1 38 1-82 1 21 1-9 1-51 1 28 1 29 1-58 1 41 1 74 1-74 1-16 1 43 1 1 1-12 1-52 1 5 1 17 1-3 1 36 1 30 1 14 1-74 1 42 1-74 1-29 1 71 1-20 1 31 1-28 1 18 1-38 1 9 1-20 1-38 1 28 1 14 1 14 1 54 1-100 1 15 1 1 1-1 1 19 1-25 1-42 1 42 1-22 1 88 1-54 1 2 1 5 1-20 1 50 1-18 1-25 1 29 1-94 1 46 1-31 1 35 1-16 1-28 1-1 1 51 1-26 1 64 1-23 1-8 1 29 1-25 1-5 1 9 1 2 1-81 1 28 1 52 1-4 1 19 1-92 1-9 1 6 1 64 1-10 1-50 1 25 1 76 1-64 1-24 1 73 1 22 1-4 1 9 1-110 1 33 1 46 1 24 1 19 1-14 1-49 1 20 1-4 1-23 1 29 1-13 1 7 1 21 1 16 1 22 1-53 1 1 1 18 1-45 1 87 1-89 1 77 1-37 1-11 1 30 1 54 1 9 1-11 1-62 1 56 1-47 1 25 1-13 1 31 1 11 1 11 1-63 1-6 1 16 1 30 1-39 1 58 1-54 1 28 1 53 1-21 1 45 1-35 1-40 1-36 1 43 1-8 1-19 1 12 1 8 1 88 1-74 1 16 1 47 1-15 1 38 1-15 1-8 1-23 1-20 1 72 1-56 1-14 1-28 1 73 1-12 1-20 1 2 1-17 1-16 1-15 1 41 1-33 1 20 1 18 1-4 1 0 1 91 1-10 1-6 1-43 1-39 1 102 1-64 1-4 1 48 1 12 1 15 1-20 1-38 1-51 1 17 1 35 1 25 1-2 1 31 1-11 1-40 1 27 1-33 1-27 1-2 1 43 1-14 1 14 1 35 1-59 1 22 1 32 1 0 1-18 1-18 1 3 1 58 1-24 1-16 1 12 1-42 1 13 1 10 1 17 1 40 1-47 1 39 1-65 1-10 1 49 1 2 1-31 1 72 1-77 1 38 1-20 1 1 1 36 1-23 1 29 1-4 1-8 1 33 1-1 1-1 1-9 1-35 1-27 1 47 1-56 1 27 1-8 1 26 1-12 1-12 1 4 1 12 1-15 1 3 1-3 1-7 1 17 1 41 1-15 1-47 1 2 1 16 1 8 1 52 1-49 1-8 1-13 1 21 1 2 1-20 1 34 1-20 1-7 1-12 1 37 1-32 1-4 1 14 1-7 1 0 1 25 1-6 1 10 1 15 1-50 1-8 1-19 1 0 1 10 1 14 1-18 1 27 1-43 1 33 1-22 1-3 1 25 1-1 1 21 1 11 1-50 1 1 1 50 1-33 1 2 1 1 1-30 1 35 1-14 1 10 1 16 1-6 1 23 1-10 1 15 1 7 1-6 1-51 1-20 1-1 1 23 1 6 1-12 1-29 1 20 1-15 1-29 1-1 1 47 1-31 1-18 1 37 1 55 1 3 1 2 1-48 1 50 1-12 1-13 1 22 1-76 1 30 1-23 1 43 1-6 1 13 1-65 1 0 1 18 1 36 1-62 1 63 1-9 1 0 1-24 1 11 1 27 1-16 1 3 1-55 1-3 1 32 1-9 1-86 1-5 1-3 1-5 1 52 1-19 1 26 1-18 1-10 1 37 1 12 1-64 1 6 1 43 1 8 1-21 1-53 1-17 1 25 1 33 1-38 1 53 1-111 1 40 1 79 1-70 1 11 1-12 1-13 1 73 1-23 1-35 1-12 1 56 1-5 1 11 1-26 1-34 1 5 1 4 1-64 1 27 1 44 1 17 1-23 1-14 1 24 1-10 1-43 1 12 1-5 1 24 1-24 1 6 1 30 1-19 1 16 1-44 1 50 1-14 1 14 1-10 1-19 1 14 1-34 1 10 1 25 1-64 1 17 1-27 1 50 1-73 1 33 1 22 1-59 1 3 1 57 1 1 1-60 1 63 1-63 1 28 1 25 1-3 1-8 1 30 1-62 1 15 1 9 1-10 1 68 1-38 1 58 1-2 1-6 1-86 1 23 1-12 1 3 1 17 1 32 1-26 1-23 1 56 1-19 1 27 1-20 1 22 1 41 1-43 1 21 1-30 1 3 1-30 1-19 1 16 1 99 1-39 1-16 1 14 1-22 1-19 1 24 1 54 1-19 1 2 1-32 1 32 1-24 1-56 1 77 1-48 1 26 1 63 1-51 1 26 1 22 1 44 1 3 1 4 1-4 1-5 1-4 1 18 1-134 1 54 1-22 1 18 1 77 1-77 1-9 1 24 1-33 1 28 1 2 1 33 1-4 1-29 1-13 1 50 1 0 1-37 1 34 1-23 1 54 1 16 1 26 1-10 1 16 1 4 1-26 1 27 1-11 1-19 1-17 1-19 1 26 1-21 1-23 1 37 1 44 1-56 1 21 1 48 1-6 1-14 1-41 1 31 1-2 1 45 1-52 1-9 1 12 1-18 1 13 1-5 1 40 1 21 1-4 1 1 1-18 1 17 1-7 1-29 1-10 1-21 1 73 1-46 1-14 1 62 1-4 1-51 1 67 1-30 1-30 1 54 1-27 1-31 1 10 1 48 1-31 1 22 1-24 1 8 1 8 1-25 1 52 1-62 1 36 1-18 1 43 1-10 1-9 1-9 1 13 1-16 1-23 1 49 1-40 1 30 1 1 1-6 1-39 1 1 1 23 1-44 1 22 1 8 1-28 1 28 1-32 1 20 1 0 1 4 1 27 1-44 1 18 1 25 1-3 1-11 1-4 1 4 1-23 1 69 1-11 1-60 1 46 1 8 1-17 1 13 1-1 1 6 1-38 1 43 1-43 1 9 1 25 1 2 1-27 1 31 1 0 1-11 1 7 1 9 1-17 1-18 1-12 1 57 1-45 1 19 1-34 1 48 1-36 1-12 1 56 1-34 1 22 1-40 1-2 1-18 1-16 1 15 1 19 1-22 1 29 1-28 1-9 1 26 1-17 1 7 1 23 1 38 1-48 1 10 1 26 1 11 1 0 1-45 1-19 1 6 1-36 1 21 1 39 1-9 1-30 1-32 1 5 1 42 1-14 1-26 1 33 1-5 1 29 1 30 1-3 1 1 1-16 1 12 1 4 1-5 1 1 1-42 1-1 1 29 1-39 1-5 1 4 1 12 1-1 1 15 1-38 1-29 1 40 1-11 1 3 1-45 1-15 1-7 1 29 1-21 1-6 1 12 1 62 1-9 1-57 1 60 1-40 1-50 1 64 1-48 1 18 1-2 1 31 1-17 1-27 1 24 1-38 1-38 1 65 1 25 1-10 1-87 1 26 1-4 1-45 1 14 1 14 1 1 1-5 1-22 1 42 1 27 1-19 1-46 1 31 1 10 1-20 1-6 1-34 1-12 1 110 1-3 1 2 1-76 1 47 1-79 1-10 1 41 1-37 1 61 1-18 1 20 1-1 1 7 1-11 1-60 1 69 1-74 1 49 1 23 1-61 1 35 1-1 1-67 1 48 1 10 1-3 1-28 1 18 1-34 1 57 1-33 1 25 1-12 1-42 1 67 1-3 1-35 1-31 1-10 1 8 1 42 1-16 1-32 1 26 1 6 1 35 1-12 1 14 1-61 1 61 1-147 1 166 1-2 1-71 1 24 1 8 1-35 1 7 1 0 1 58 1-49 1 77 1-84 1 4 1-6 1 49 1-21 1 58 1-38 1-43 1 32 1 10 1 48 1 11 1 4 1-6 1-37 1-42 1 71 1-13 1 31 1-32 1-24 1-3 1 50 1-25 1 56 1 15 1-4 1 1 1 5 1 5 1-33 1-13 1-5 1-40 1 15 1 39 1 8 1-51 1 4 1 7 1-10 1 15 1-9 1 24 1 36 1-30 1 66 1-50 1-24 1-9 1 29 1-28 1 51 1 59 1-40 1-83 1 44 1 9 1 60 1 19 1-67 1 11 1 62 1-7 1-33 1-27 1-18 1 2 1 18 1-27 1 114 1-5 1-110 1 21 1 13 1 25 1-38 1 19 1 8 1-34 1-24 1 43 1 20 1 8 1 9 1 28 1-30 1-25 1 1 1 82 1-99 1 50 1 17 1-1 1-44 1 30 1 37 1 25 1-45 1 35 1-31 1 0 1 35 1 1 1-22 1 30 1-36 1-31 1 17 1-10 1 7 1-25 1 24 1 0 1 10 1-23 1 62 1-42 1-19 1 19 1 5 1-22 1 18 1 6 1-18 1 39 1-7 1-5 1 8 1-19 1-5 1 13 1 39 1-31 1-2 1-20 1 54 1-47 1 11 1 6 1 0 1 57 1-35 1-29 1-9 1 40 1-19 1-7 1-11 1-13 1 3 1 11 1 24 1-6 1 17 1-45 1 49 1-37 1 34 1 12 1-41 1 40 1-13 1 15 1-70 1 79 1-56 1 28 1-16 1-17 1-22 1 2 1 19 1-18 1 43 1 35 1-33 1-11 1-19 1-6 1 24 1-36 1 1 1 75 1-53 1-10 1 2 1 6 1 3 1 7 1 7 1-16 1-16 1-3 1 23 1-16 1-20 1 33 1-37 1 7 1 10 1 5 1 24 1-9 1 16 1-27 1 2 1 13 1 0 1-18 1 16 1 29 1-11 1-11 1 17 1-62 1 28 1 13 1-33 1-1 1 16 1 18 1 30 1-74 1 83 1-19 1-43 1 15 1 29 1 5 1-33 1-48 1 25 1-13 1-37 1 30 1-5 1 55 1-55 1 7 1 0 1-12 1-27 1 38 1-2 1-60 1 3 1 3 1 25 1-3 1-39 1 2 1 27 1 20 1-8 1 19 1 61 1-88 1-14 1 57 1-16 1-39 1 63 1-47 1 28 1-34 1-7 1-3 1-22 1 27 1-44 1-14 1 60 1-68 1 90 1 7 1-43 1 14 1-1 1 21 1 5 1 25 1-3 1 0 1-70 1-3 1 37 1-26 1-12 1 52 1-28 1-17 1 1 1 27 1-34 1 38 1-60 1 56 1-3 1-48 1-69 1 30 1-4 1-24 1-16 1 56 1 7 1-65 1 47 1-36 1 22 1-18 1 73 1-32 1 9 1-15 1 20 1-78 1 0 1 22 1-30 1 19 1 22 1 37 1-10 1-68 1-7 1 78 1-4 1-39 1 19" stroke="#FFAC00" vector-effect="non-scaling-stroke"/>
<path d="M0 177l1-18 1-28 1 1 1-1 1-2 1 9 1-10 1 41 1 26 1-14 1 1 1-1 1-24 1 17 1 6 1 6 1 15 1-38 1 23 1-3 1-9 1-41 1 76 1-35 1-41 1 34 1-19 1-10 1 44 1 17 1-57 1 4 1 32 1 11 1 46 1-17 1 5 1-78 1 17 1 56 1-40 1-31 1 0 1 3 1 15 1 26 1 42 1-62 1 39 1-42 1-10 1 31 1-28 1 87 1-39 1 38 1 24 1 20 1-7 1 0 1-32 1 14 1-15 1 51 1-71 1 14 1-22 1 18 1-28 1 52 1 33 1-61 1 66 1-6 1-52 1 58 1 25 1-30 1-91 1 127 1-114 1 109 1 6 1-20 1 19 1-22 1 3 1 0 1-59 1 55 1-66 1 1 1-6 1-7 1 41 1 72 1-76 1-5 1-22 1 67 1 37 1-60 1-28 1 27 1 12 1-32 1 63 1-13 1-10 1 1 1 2 1 46 1-94 1 54 1-25 1 26 1 23 1-3 1 40 1-42 1 31 1-17 1 6 1-38 1-6 1 93 1-49 1-2 1-5 1 61 1-103 1 31 1 24 1-2 1-10 1 28 1 25 1-14 1 27 1-64 1-1 1 62 1-60 1-6 1-7 1-4 1 8 1 2 1 48 1 6 1 10 1-13 1-15 1-10 1 34 1-37 1 47 1 1 1 2 1-43 1 30 1 5 1 13 1-38 1-32 1-3 1 35 1-13 1 40 1 19 1-29 1 17 1-34 1-36 1 32 1-25 1 63 1-38 1 4 1 15 1-12 1-5 1 33 1-30 1-10 1 0 1 33 1-19 1-7 1 46 1 9 1-30 1 27 1-1 1 2 1-29 1-31 1 10 1 3 1 42 1-43 1 33 1-7 1-17 1-20 1-19 1 75 1-31 1-5 1-2 1-10 1 8 1-21 1 45 1 0 1-22 1-9 1 30 1-48 1-21 1 12 1 13 1 39 1 3 1-38 1 59 1-57 1-11 1-8 1 72 1-12 1-28 1 0 1 18 1-43 1-9 1 51 1-23 1-12 1 8 1 17 1 4 1 18 1 6 1-4 1-47 1-17 1 49 1-3 1-37 1-43 1 42 1 21 1-20 1-37 1 46 1 8 1-51 1 30 1 29 1-35 1 26 1-50 1 23 1-33 1 7 1 70 1-58 1-21 1 47 1-15 1-49 1 57 1-22 1 20 1-6 1 43 1-59 1 10 1 52 1-103 1-9 1 27 1 14 1-8 1 35 1-15 1 10 1-18 1 53 1-87 1-2 1-3 1-20 1 59 1 29 1-71 1 19 1-18 1-46 1 110 1-99 1 22 1-49 1 8 1-31 1 60 1-52 1 15 1-22 1 9 1 19 1-20 1 24 1-23 1-16 1-15 1-8 1 0 1 0 1 14 1 85 1 0 1-23 1-74 1 34 1-20 1 34 1-1 1 7 1-50 1 57 1-82 1 38 1 40 1-48 1 53 1-49 1 58 1-78 1-3 1 8 1 26 1-6 1-3 1-25 1 50 1 9 1-27 1 16 1-23 1 20 1-76 1 52 1 19 1-34 1-1 1-40 1-1 1 20 1-26 1 22 1 19 1-1 1 13 1-17 1-41 1 12 1-19 1 7 1 9 1 22 1-22 1 41 1 23 1-40 1 24 1-14 1 25 1-24 1 6 1 7 1 13 1-15 1-8 1-50 1 80 1-3 1-29 1-47 1 41 1-4 1-10 1-9 1-2 1 65 1-45 1-4 1 15 1-32 1-2 1 29 1-14 1-16 1 4 1 9 1 21 1 40 1 11 1 24 1 9 1 3 1-52 1-55 1 37 1-2 1 75 1-69 1 61 1-19 1-34 1 52 1-56 1 32 1-8 1 9 1 55 1-23 1-39 1 42 1 3 1-30 1-31 1 76 1-2 1 19 1 16 1-10 1-67 1 36 1-48 1 58 1-47 1-27 1 61 1 61 1-33 1-44 1 53 1 17 1-34 1 28 1 13 1-59 1 25 1-39 1 52 1-34 1 86 1-35 1-33 1 20 1-19 1 12 1 18 1-28 1 20 1-13 1 36 1 31 1-25 1 2 1-13 1-13 1 11 1 18 1 22 1-65 1 37 1 48 1-28 1 33 1-39 1-15 1-11 1 20 1 1 1 10 1-21 1 42 1-11 1-30 1 8 1-18 1 56 1 8 1-50 1-2 1-11 1-7 1 49 1-6 1-6 1 8 1-15 1 10 1-5 1 17 1 5 1-20 1 6 1 33 1-18 1-22 1 7 1 47 1-23 1 11 1-34 1 14 1 13 1-16 1 1 1-5 1 2 1 35 1-32 1 17 1 35 1-29 1 26 1-13 1 24 1-48 1 35 1-41 1 40 1-49 1 10 1-27 1 34 1-13 1 22 1 4 1 25 1 5 1-11 1-39 1-2 1 50 1-10 1-16 1-37 1 38 1 18 1-5 1-4 1 4 1 12 1-35 1 15 1-29 1 42 1-36 1-33 1 0 1 15 1 15 1-30 1 41 1-29 1 26 1-34 1 50 1 0 1 11 1-36 1 27 1-33 1-14 1-14 1 25 1 34 1-33 1 10 1 4 1-23 1 53 1-12 1 1 1-35 1 19 1-35 1-8 1-4 1-6 1 6 1-10 1 19 1 16 1 1 1-9 1-21 1 0 1 33 1-25 1 15 1 30 1 17 1-20 1 1 1-62 1 76 1-70 1 47 1-26 1-38 1 93 1-67 1 20 1 33 1-14 1 13 1 13 1-70 1 27 1-42 1 26 1 4 1-29 1 39 1-14 1 46 1-43 1-37 1 10 1-8 1 2 1-7 1 45 1-10 1-12 1 46 1-33 1 45 1-38 1 31 1-77 1 28 1 40 1-39 1-11 1-22 1 44 1-36 1 0 1 24 1-73 1-16 1 7 1 74 1-85 1 6 1 36 1-28 1-41 1 2 1-7 1 51 1-31 1 47 1-4 1-10 1 74 1-56 1-13 1-41 1 77 1-12 1-1 1-94 1 103 1-31 1-19 1 49 1-76 1-29 1 25 1 28 1 14 1 6 1 6 1 20 1-25 1-84 1 5 1 2 1-8 1-33 1 37 1 19 1 9 1-46 1-1 1 10 1 11 1-33 1 56 1-34 1-46 1 2 1 13 1 89 1-3 1-38 1-14 1-58 1-1 1 51 1-139 1 83 1 30 1 11 1 1 1 9 1-22 1-23 1-3 1-14 1 5 1 3 1 43 1-28 1 21 1-15 1-26 1 33 1-3 1 3 1-42 1 5 1 18 1-17 1 24 1-32 1 70 1-12 1-6 1 4 1-42 1-6 1 15 1-81 1 113 1-45 1 4 1 52 1 28 1-2 1-12 1 18 1 16 1-5 1-33 1 27 1-16 1 18 1 10 1-13 1-29 1 60 1-22 1-3 1 32 1-47 1-12 1 30 1-20 1-59 1 67 1 4 1 4 1-13 1-12 1-41 1 57 1-26 1 4 1-1 1 54 1-14 1 2 1 34 1-84 1 29 1 0 1-37 1-1 1 37 1-8 1 28 1-21 1-4 1 10 1 26 1 15 1-35 1 76 1-59 1 100 1-55 1 15 1 32 1-72 1 1 1 35 1-9 1-13 1 27 1-53 1 24 1 5 1-33 1-5 1 0 1 9 1 35 1-2 1 19 1 66 1-16 1-61 1 73 1-56 1 6 1-8 1 78 1-75 1 15 1-6 1 50 1-55 1-6 1 16 1 74 1-29 1 10 1 13 1-15 1-5 1 15 1-32 1-22 1 23 1 44 1-49 1-48 1 58 1-15 1 2 1 1 1 41 1-12 1 41 1-92 1 11 1 40 1-34 1 36 1-11 1 9 1-12 1 13 1-21 1 15 1-23 1 15 1-7 1-20 1 3 1 35 1-11 1-13 1 29 1 3 1 3 1-33 1 73 1-26 1-1 1 1 1 24 1-47 1 34 1-34 1 19 1-15 1 19 1-30 1 27 1-24 1 33 1-23 1 13 1-15 1-7 1 26 1 18 1 45 1-30 1 1 1-9 1 20 1-42 1 19 1-25 1 29 1-15 1-13 1 32 1-2 1-26 1-8 1 6 1-21 1 63 1-28 1 24 1-8 1-26 1 16 1-37 1-6 1 28 1 24 1 3 1-22 1 0 1-15 1 21 1-45 1 22 1 7 1-2 1-28 1 61 1-60 1 51 1-24 1-19 1-4 1 12 1-14 1 40 1-15 1 17 1-9 1-12 1 47 1-38 1-42 1 55 1 15 1-67 1 25 1-10 1 50 1-66 1 12 1 2 1-5 1-15 1 16 1-28 1 45 1 43 1-94 1 25 1 44 1-59 1 65 1-26 1-39 1-6 1 16 1 9 1-34 1-9 1 6 1-2 1 26 1 30 1 0 1-10 1 12 1-17 1-36 1 51 1-25 1 31 1 30 1-59 1 16 1-21 1 37 1-43 1 20 1-22 1-42 1 7 1 11 1 62 1 9 1-31 1-34 1 59 1 8 1-39 1-3 1-35 1 32 1 29 1-63 1 33 1-39 1-21 1 69 1-60 1 35 1-57 1 63 1 2 1-53 1 33 1-57 1 31 1-7 1 40 1-37 1-23 1 4 1-11 1 4 1-6 1-14 1-24 1 81 1-61 1-23 1-21 1 30 1-32 1 55 1-12 1 14 1-2 1-8 1 12 1-62 1 57 1-62 1 46 1 69 1-91 1 25 1-28 1-19 1 97 1-70 1 41 1-37 1-3 1 16 1-4 1-31 1 41 1-40 1-42 1 0 1 12 1 65 1-44 1 14 1-26 1-25 1 37 1 4 1 12 1-56 1 26 1-8 1 41 1-13 1 14 1-5 1 11 1 4 1-49 1 6 1 26 1-111 1 62 1-23 1 84 1-16 1 19 1-79 1 22 1 14 1 24 1-67 1 6 1 86 1-70 1 34 1-23 1 48 1 0 1-3 1 23 1-27 1-6 1-18 1-30 1 76 1-9 1 12 1-76 1-11 1 96 1-40 1-47 1 38 1-30 1 69 1-16 1 14 1-2 1-6 1 29 1-21 1 29 1-58 1 54 1-47 1 39 1-24 1-2 1 78 1-94 1 23 1-4 1 70 1-62 1 59 1-80 1 8 1 14 1 42 1-29 1 77 1-65 1-1 1 53 1-3 1-7 1-39 1 5 1 6 1 21 1-79 1 44 1-6 1-17 1 7 1 29 1 8 1-29 1 13 1-15 1 25 1 11 1 1 1-1 1-36 1 39 1-34 1 8 1-6 1 50 1-6 1 10 1-21 1-4 1 82 1-15 1 0 1-49 1-34 1 46 1-17 1 29 1 48 1-46 1 63 1-85 1 22 1 16 1-7 1 34 1-68 1 39 1 12 1-26 1 66 1 8 1-86 1 17 1 38 1-36 1 36 1-45 1 31 1 37 1-73 1 23 1 14 1 8 1-4 1 40 1 8 1-8 1-31 1 3 1 9 1-8 1 36 1-44 1 14 1-27 1-3 1 18 1 18 1 4 1-15 1 21 1-11 1-10 1 53 1-21 1-35 1 68 1-19 1-16 1-28 1 20 1 5 1 41 1-46 1-18 1 18 1 7 1-31 1 28 1 20 1 18 1-50 1-5 1 22 1 13 1 18 1 8 1-10 1 7 1-25 1 28 1-21 1-33 1 52 1-29 1-6 1-1 1 4 1 38 1-19 1-6 1-28 1-21 1 20 1 6 1 1 1 45 1-37 1-17 1-16 1 43 1-19 1-2 1 27 1-1 1 17 1-48 1 13 1-20 1-4 1 46 1-15 1-21 1 17 1 35 1-29 1 58 1-73 1-25 1 29 1-24 1 6 1 5 1 4 1-2 1-23 1 67 1-28 1 10 1-9 1 29 1-39 1-35 1 7 1 25 1-16 1 9 1 0 1 39 1-2 1-16 1 9 1-53 1 13 1-12 1-17 1 57 1-38 1 32 1 4 1-35 1 12 1 37 1-1 1-51 1 7 1 8 1-14 1-9 1 3 1 23 1 15 1-10 1 9 1 9 1-2 1-19 1-39 1 17 1 14 1-35 1 2 1 18 1-28 1 5 1 1 1-35 1 28 1-38 1 23 1 33 1-5 1 1 1 14 1 18 1-47 1 22 1 37 1 1 1-4 1 1 1-41 1-12 1 12 1-16 1-46 1 39 1-5 1-41 1 4 1 38 1-66 1 25 1 66 1-16 1-95 1 42 1 5 1-35 1 39 1-49 1 48 1-7 1 8 1-30 1 0 1-14 1 15 1 49 1-5 1-118 1 4 1-1 1 72 1-34 1-48 1 93 1-12 1-10 1-82 1 5 1 20 1-8 1-17 1-19 1 60 1-43 1 62 1-39 1 22 1-46 1 53 1 6 1 10 1-60 1-8 1 19 1-47 1-9 1 48 1-13 1 15 1-16 1-17 1 15 1 11 1-13 1-43 1 79 1-63 1 1 1 35 1-61 1 82 1-85 1 40 1 13 1 10 1-13 1 19 1-39 1-42 1 1 1 44 1 40 1-85 1 72 1-75 1 55 1-19 1-10 1 5 1 1 1-33 1 75 1-69 1 50 1 34 1-56 1-17 1-5 1 28 1-31 1 9 1 74 1-72 1 12 1-3 1 9 1-10 1 18 1-22 1 8 1 89 1-66 1 66 1-89 1 20 1-19 1 12 1 67 1-61 1 77 1-84 1-1 1 13 1-8 1 68 1-5 1-8 1 31 1 46 1-43 1 36 1 18 1 2 1-1 1 8 1-1 1 7 1-4 1 10 1-33 1-18 1 11 1-76 1 25 1 13 1 93 1-5 1 10 1-10 1-60 1 76 1-21 1-33 1 61 1-6 1-70 1 27 1 10 1 2 1 15 1 34 1-22 1-32 1-15 1 51 1-91 1 100 1-8 1-70 1 16 1 16 1 19 1-55 1 39 1 18 1 56 1-38 1 26 1 4 1-35 1 49 1-32 1 7 1-25 1 45 1-42 1 42 1 0 1-15 1-1 1 13 1-44 1 5 1 57 1-51 1 49 1-14 1-14 1-45 1 71 1 16 1 3 1-83 1 39 1 4 1 50 1-6 1 15 1 1 1-31 1-27 1 41 1-3 1 22 1-9 1 10 1-27 1 29 1-32 1 26 1-24 1-50 1 4 1 31 1-27 1 18 1 25 1-16 1-12 1 12 1-13 1 12 1 21 1 9 1-8 1 15 1 4 1-26 1-22 1 63 1-21 1 9 1-42 1 42 1-15 1 22 1 4 1 5 1-50 1 28 1-11 1-16 1 51 1-21 1-31 1 7 1 9 1-29 1 47 1 11 1-4 1-29 1-18 1 49 1-68 1 51 1-45 1 19 1 4 1 20 1-6 1-15 1 15 1-10 1 10 1 2 1-29 1 62 1 25 1-25 1-10 1-46 1 24 1 21 1 10 1-13 1-33 1-7 1 8 1-31 1 77 1-29 1 22 1 4 1-15 1 2 1-38 1 3 1-15 1 31 1-12 1-16 1 1 1 14 1-11 1 1 1 51 1-75 1 5 1 24 1-10 1 14 1-11 1 9 1 43 1-9 1 3 1 0 1-7 1 8 1-60 1 21 1 34 1-45 1-6 1 3 1-15 1 12 1 10 1 28 1-38 1-8 1 53 1-41 1-20 1-36 1 39 1-45 1 50 1-28 1-12 1-7 1 41 1 34 1-21 1 5 1-6 1-49 1-1 1 21 1 51 1-49 1-7 1-51 1-1 1 46 1-53 1 2 1 47 1 24 1 0 1 25 1-12 1 31 1-6 1-56 1 51 1-39 1-58 1 79 1-40 1 7 1 27 1 10 1-51 1-14 1-1 1-43 1 15 1 1 1 29 1-7 1-24 1 4 1-42 1 28 1-20 1-40 1 38 1 54 1-36 1 66 1-28 1-40 1 16 1-50 1-19 1 64 1-36 1 28 1-32 1 4 1-21 1-53 1 43 1 25 1-69 1 23 1-2 1 31 1-22 1-42 1 45 1-50 1 49 1 18 1-62 1 58 1-69 1 64 1-11 1-42 1 44 1 28 1-15 1-54 1 25 1-39 1 41 1 11 1-1 1 16 1-20 1-35 1-18 1 13 1 21 1-28 1-26 1 4 1 46 1-50 1 55 1 1 1-61 1 64 1-2 1-31 1 29 1-8 1 4 1-59 1 9 1 39 1-31 1-5 1 16 1 34 1 5 1-2 1-48 1 8 1 5 1 11 1 25 1 20 1-21 1 44 1-48 1-24 1 37 1 13 1 34 1-16 1 20 1-16 1-73 1 72 1-15 1 19 1 16 1-27 1-28 1 16 1-18 1 17 1 36 1-2 1 43 1-21 1-39 1 47 1-34 1 16 1-13 1 18 1 45 1-47 1-8 1-65 1 19 1 41 1-9 1 25 1-17 1 51 1-29 1-23 1 11 1 37 1-37 1-15 1 51 1-21 1-5 1 12 1 20 1-5 1 51 1-23 1-39 1 32 1-57 1 98 1-86 1 14 1-28 1 68 1 6 1-61 1-3 1 31 1-27 1 1 1 35 1 2 1 16 1 24 1 41 1-42 1-43 1 10 1-9 1-27 1 69 1-58 1 107 1-47 1-16 1 14 1 37 1-45 1 9 1 5 1 59 1-1 1 27 1-2 1 6 1-85 1 71 1-20 1 25 1-2 1-19 1-6 1 28 1-49 1 58 1-75 1 37 1 2 1-10 1-22 1-21 1 19 1 66 1-37 1-41 1 37 1 23 1-9 1 11 1 7 1-26 1 28 1 20 1-45 1-37 1 0 1 60 1 17 1-45 1-5 1 52 1-46 1-15 1 77 1-22 1-8 1 10 1-26 1-11 1-6 1 56 1-19 1-2 1 28 1-6 1-28 1 17 1 4 1 25 1-21 1 25 1-44 1 35 1-5 1-32 1-34 1 18 1 1 1 7 1 6 1-7 1 38 1-31 1 13 1 22 1-62 1 8 1-10 1 66 1-45 1 1 1 9 1 11 1 27 1-1 1-66 1 29 1-35 1 7 1 28 1-1 1 30 1-40 1 8 1-22 1 25 1-15 1 17 1 46 1-54 1-20 1 52 1-37 1 41 1 16 1-19 1-28 1 22 1-8 1-16 1 32 1-45 1 22 1 11 1-32 1-1 1-20 1 28 1 30 1-19 1 33 1-20 1-7 1-19 1-4 1-5 1-6 1-4 1 55 1-25 1-4 1 4 1 9 1 12 1 8 1-13 1-23 1-2 1 9 1 7 1-39 1 40 1-52 1-34 1 49 1 8 1-9 1-14 1-15 1-13 1 51 1 4 1-8 1-31 1-7 1-21 1 10 1-1 1 9 1-27 1 77 1-24 1-44 1 19 1-16 1 4 1 26 1-6 1-51 1 15 1 22 1-9 1-19 1 67 1 20 1-4 1-80 1-23 1-1 1-4 1-7 1-29 1 24 1 28 1 36 1 23 1-97 1 27 1 10 1-38 1 48 1-46 1 34 1 8 1-43 1 50 1-48 1-28 1 40 1-52 1 19 1-54 1 4 1 11 1 20 1 59 1-78 1 22 1 61 1-49 1 50 1-38 1 17 1-11 1-19 1-36 1 3 1-50 1 0 1 43 1-23 1 64 1-73 1 15 1 19 1-9 1 2 1 35 1-27 1-18 1 17 1-54 1-6 1 58 1 20 1-53 1-17 1 23 1-40 1 69 1-33 1-27 1-27 1 81 1 20 1-90 1 7 1-19 1-7 1 100 1-32 1-9 1-21 1-39 1 63 1-7 1-62 1 43 1 23 1-35 1 31 1 34 1-27 1 15 1-56 1 17 1-7 1-7 1 57 1 17 1-32 1 28 1-1 1-23 1-3 1-18 1-23 1-18 1 0 1 6 1 30 1-16 1 26 1-1 1 2 1 11 1 48 1 21 1-13 1-23 1 0 1-17 1 14 1 1 1-36 1 40 1 24 1 41 1-30 1 29 1 0 1-33 1 12 1 16 1-85 1 37 1-4 1 18 1-29 1-38 1 34 1 53 1-11 1-37 1 65 1 5 1-77 1 20 1 90 1-11 1 18 1-96 1-13 1 0 1 19 1 9 1-6 1 10 1-8 1-29 1 1 1 31 1-4 1 34 1 1 1-43 1 62 1 35 1 34 1-64 1 24 1-4 1 57 1-11 1 18 1-62 1 31 1-13 1-12 1 75 1-71 1 12 1 9 1-27 1-9 1 55 1-4 1 31 1-35 1 32 1-73 1 71 1-55 1 42 1-32 1-4 1 11 1 21 1-72 1 27 1 12 1 14 1 29 1-61 1 20 1 13 1 26 1-4 1 17 1-17 1 25 1-69 1 52 1-52 1 13 1 3 1 15 1 8 1-25 1 101 1-59 1 1 1 45 1-44 1-11 1 17 1 43 1-48 1 16 1 11 1 19 1-4 1 13 1-17 1-14 1 43 1 5 1-4 1-13 1-53 1 58 1-37 1-13 1 18 1-10 1-25 1 26 1 12 1-36 1 47 1-40 1 71 1-83 1 28 1 0 1 11 1 49 1-23 1 4 1-11 1 29 1-56 1 19 1 27 1-12 1-8 1-12 1 13 1 9 1-32 1 14 1-14 1 7 1 41 1-45 1 19 1-11 1 23 1-5 1-20 1-17 1 0 1 30 1-9 1 12 1-16 1 6 1 44 1-48 1-23 1-5 1 9 1-13 1 39 1 36 1 3 1-6 1-47 1 43 1-47 1-11 1 10 1-1 1 4 1 9 1 13 1-36 1 7 1-2 1-32 1 2 1-5 1 24 1 5 1-9 1 59 1-31 1-17 1-8 1 62 1-49 1 21 1-2 1-7 1-26 1 22 1-23 1-4 1 9 1 37 1-60 1 77 1-106 1 43 1 6 1 6 1-37 1 2 1-30 1 84 1-54 1-26 1-11 1 35 1-12 1-19 1 23 1-26 1 37 1-15 1-2 1 23 1 33 1-1 1-35 1 3 1-9 1 12 1-50 1 46 1-30 1 5 1-8 1 70 1-30 1-30 1-3 1 29 1-34 1 10 1-24 1 42 1-14 1 35 1-80 1-18 1 25 1-5 1 78 1-50 1 15 1-45 1 41 1-84 1 23 1-13 1-46 1 19 1 36 1-58 1 37 1 75 1-71 1-20 1 46 1-2 1-9 1-53 1 6 1 23 1-14 1 38 1 26 1 14 1-70 1 45 1-76 1-30 1 72 1-24 1 31 1-25 1 18 1-35 1 5 1-17 1-37 1 27 1 12 1 20 1 49 1-99 1 13 1 2 1-1 1 17 1-30 1-39 1 47 1-23 1 88 1-55 1 3 1 3 1-16 1 47 1-19 1-25 1 32 1-95 1 49 1-35 1 32 1-14 1-25 1-1 1 47 1-25 1 64 1-22 1-9 1 33 1-31 1-3 1 10 1 2 1-83 1 31 1 52 1 0 1 13 1-91 1-6 1 8 1 59 1-9 1-50 1 26 1 75 1-62 1-24 1 70 1 27 1-8 1 10 1-111 1 33 1 44 1 27 1 19 1-17 1-44 1 13 1-2 1-16 1 24 1-10 1 2 1 23 1 15 1 24 1-53 1-2 1 18 1-39 1 80 1-89 1 81 1-39 1-9 1 24 1 57 1 11 1-7 1-65 1 56 1-49 1 25 1-10 1 27 1 11 1 11 1-61 1-10 1 19 1 31 1-40 1 58 1-51 1 28 1 54 1-25 1 46 1-37 1-42 1-36 1 50 1-11 1-20 1 13 1 6 1 92 1-79 1 20 1 48 1-16 1 34 1-10 1-10 1-26 1-17 1 74 1-59 1-17 1-16 1 64 1-10 1-20 1 2 1-14 1-22 1-13 1 40 1-29 1 18 1 18 1-7 1 1 1 90 1-5 1-9 1-46 1-37 1 105 1-68 1 0 1 45 1 13 1 17 1-21 1-34 1-57 1 14 1 42 1 19 1 0 1 36 1-17 1-38 1 26 1-31 1-31 1-2 1 46 1-14 1 16 1 31 1-60 1 24 1 32 1 0 1-21 1-13 1 3 1 54 1-22 1-17 1 14 1-39 1 11 1 12 1 14 1 39 1-44 1 38 1-64 1-13 1 49 1 5 1-32 1 69 1-73 1 36 1-25 1 7 1 31 1-15 1 25 1-2 1-6 1 27 1 2 1 0 1-14 1-35 1-21 1 41 1-52 1 24 1-4 1 22 1-7 1-18 1 6 1 15 1-16 1 1 1 2 1-10 1 16 1 39 1-12 1-49 1-2 1 21 1 6 1 54 1-51 1-9 1-13 1 28 1 1 1-24 1 32 1-16 1-13 1-7 1 35 1-31 1 1 1 9 1-7 1 2 1 28 1-9 1 5 1 18 1-53 1-3 1-18 1-5 1 14 1 17 1-25 1 29 1-39 1 31 1-25 1-3 1 25 1 2 1 20 1 12 1-48 1-1 1 47 1-30 1 5 1-2 1-34 1 41 1-13 1 9 1 11 1 1 1 16 1-11 1 19 1 9 1-4 1-54 1-19 1-4 1 24 1 8 1-12 1-33 1 20 1-13 1-26 1-6 1 46 1-29 1-19 1 37 1 60 1 3 1-2 1-47 1 53 1-13 1-21 1 28 1-76 1 33 1-29 1 44 1-3 1 10 1-68 1 2 1 18 1 38 1-61 1 58 1-5 1 0 1-26 1 15 1 27 1-20 1 6 1-54 1-8 1 38 1-8 1-89 1-7 1-2 1-4 1 52 1-16 1 18 1-16 1-8 1 37 1 11 1-68 1 12 1 41 1 8 1-24 1-48 1-17 1 25 1 33 1-37 1 50 1-115 1 45 1 77 1-68 1 9 1-11 1-12 1 71 1-20 1-37 1-9 1 48 1-2 1 17 1-31 1-35 1 7 1 4 1-66 1 32 1 45 1 11 1-21 1-12 1 21 1-7 1-43 1 8 1-2 1 32 1-31 1 14 1 17 1-16 1 12 1-39 1 52 1-16 1 14 1-11 1-18 1 17 1-34 1 9 1 23 1-63 1 19 1-31 1 50 1-74 1 37 1 17 1-58 1 5 1 61 1-4 1-56 1 54 1-57 1 29 1 25 1-4 1-10 1 31 1-60 1 13 1 11 1-15 1 72 1-37 1 60 1-5 1 0 1-94 1 25 1-9 1-2 1 20 1 28 1-23 1-26 1 60 1-20 1 25 1-16 1 25 1 37 1-42 1 20 1-37 1 8 1-27 1-21 1 12 1 106 1-42 1-13 1 9 1-23 1-17 1 23 1 55 1-18 1 2 1-30 1 34 1-25 1-55 1 72 1-49 1 26 1 63 1-48 1 23 1 25 1 43 1 0 1 9 1 0 1-11 1 1 1 11 1-129 1 54 1-24 1 18 1 79 1-82 1-4 1 22 1-40 1 33 1-3 1 42 1-6 1-27 1-17 1 51 1-9 1-26 1 28 1-20 1 58 1 14 1 26 1-13 1 18 1 4 1-30 1 33 1-12 1-19 1-16 1-20 1 28 1-22 1-22 1 36 1 42 1-55 1 20 1 49 1-8 1-9 1-44 1 30 1-7 1 50 1-53 1-9 1 16 1-18 1 10 1-5 1 44 1 18 1-6 1-1 1-12 1 17 1-9 1-29 1-5 1-27 1 69 1-43 1-15 1 63 1-7 1-46 1 60 1-26 1-24 1 50 1-27 1-30 1 7 1 53 1-29 1 12 1-19 1 11 1 3 1-21 1 49 1-60 1 35 1-19 1 44 1-13 1 0 1-13 1 11 1-13 1-30 1 54 1-39 1 28 1-1 1-7 1-38 1 0 1 23 1-38 1 18 1 10 1-28 1 22 1-29 1 22 1 1 1 2 1 31 1-49 1 22 1 25 1-6 1-11 1 1 1-2 1-18 1 66 1-18 1-54 1 48 1 4 1-17 1 16 1-1 1 5 1-31 1 36 1-47 1 11 1 26 1 0 1-24 1 32 1 1 1-14 1 7 1 11 1-16 1-19 1-11 1 58 1-47 1 22 1-34 1 41 1-33 1-9 1 52 1-34 1 22 1-37 1-4 1-22 1-11 1 15 1 19 1-22 1 27 1-26 1-4 1 22 1-17 1 8 1 21 1 36 1-46 1 7 1 34 1 2 1 6 1-42 1-25 1 8 1-42 1 21 1 43 1-7 1-33 1-26 1-1 1 39 1-7 1-24 1 36 1-14 1 34 1 22 1 8 1-3 1-15 1 11 1-2 1 3 1 1 1-46 1-1 1 31 1-44 1-2 1 5 1 12 1-5 1 24 1-49 1-25 1 39 1-10 1 3 1-41 1-21 1-5 1 33 1-24 1-5 1 5 1 66 1-8 1-51 1 55 1-41 1-53 1 67 1-48 1 21 1-6 1 33 1-21 1-23 1 24 1-39 1-35 1 61 1 19 1 0 1-91 1 23 1-1 1-44 1 15 1 16 1 2 1-7 1-26 1 48 1 25 1-17 1-49 1 30 1 11 1-20 1-5 1-31 1-15 1 108 1-2 1-1 1-75 1 52 1-82 1-11 1 41 1-39 1 63 1-16 1 18 1-1 1 6 1-11 1-57 1 64 1-69 1 45 1 24 1-56 1 30 1 3 1-64 1 47 1 2 1-1 1-25 1 20 1-35 1 55 1-35 1 28 1-12 1-43 1 66 1 0 1-36 1-33 1-9 1 9 1 41 1-14 1-36 1 27 1 8 1 34 1-11 1 13 1-64 1 62 1-145 1 168 1-6 1-66 1 15 1 14 1-34 1 7 1-4 1 62 1-48 1 74 1-85 1 5 1-3 1 50 1-20 1 51 1-38 1-37 1 31 1 11 1 45 1 12 1 3 1-1 1-43 1-39 1 69 1-14 1 26 1-24 1-26 1-3 1 48 1-23 1 55 1 18 1-7 1 4 1 4 1 4 1-34 1-13 1-1 1-41 1 14 1 41 1 6 1-53 1 6 1 4 1-12 1 20 1-2 1 11 1 42 1-27 1 59 1-46 1-23 1-8 1 26 1-28 1 47 1 63 1-39 1-84 1 38 1 18 1 57 1 21 1-68 1 11 1 59 1-7 1-30 1-30 1-17 1 1 1 17 1-23 1 110 1-6 1-106 1 22 1 10 1 28 1-40 1 21 1 4 1-32 1-25 1 47 1 26 1 2 1 8 1 23 1-25 1-24 1-1 1 80 1-96 1 46 1 17 1-1 1-41 1 25 1 38 1 30 1-48 1 38 1-30 1 2 1 29 1 3 1-22 1 27 1-32 1-30 1 15 1-10 1 4 1-22 1 26 1-1 1 7 1-20 1 59 1-42 1-12 1 9 1 10 1-18 1 14 1 7 1-18 1 37 1-9 1 3 1 4 1-18 1-11 1 14 1 40 1-30 1-1 1-25 1 63 1-50 1 8 1 3 1 6 1 56 1-31 1-34 1-12 1 41 1-18 1-6 1-8 1-16 1 2 1 11 1 30 1-7 1 13 1-42 1 48 1-42 1 39 1 13 1-43 1 40 1-9 1 10 1-67 1 81 1-58 1 27 1-18 1-18 1-22 1 7 1 18 1-21 1 45 1 35 1-27 1-19 1-15 1-4 1 22 1-38 1 3 1 69 1-49 1-9 1-2 1 10 1 2 1 9 1 3 1-15 1-15 1 0 1 15 1-10 1-21 1 32 1-36 1 6 1 11 1 6 1 24 1-14 1 22 1-29 1-3 1 16 1-1 1-13 1 11 1 27 1-2 1-11 1 17 1-69 1 31 1 8 1-26 1-8 1 19 1 17 1 32 1-72 1 79 1-14 1-46 1 12 1 30 1 9 1-33 1-50 1 26 1-16 1-31 1 27 1-5 1 53 1-56 1 8 1-3 1-7 1-28 1 37 1 1 1-62 1 4 1 2 1 21 1-2 1-29 1-4 1 24 1 22 1-7 1 21 1 55 1-87 1-14 1 59 1-15 1-40 1 66 1-48 1 25 1-31 1-4 1-4 1-27 1 30 1-44 1-14 1 58 1-70 1 89 1 11 1-44 1 12 1 3 1 19 1 5 1 25 1-2 1-4 1-66 1-5 1 42 1-29 1-11 1 49 1-25 1-19 1-5 1 35 1-33 1 38 1-65 1 56 1-1 1-49 1-70 1 31 1 1 1-26 1-17 1 56 1 4 1-63 1 49 1-37 1 20 1-16 1 70 1-36 1 15 1-16 1 18 1-77 1-2 1 26 1-26 1 17 1 16 1 46 1-13 1-70 1-2 1 68 1 0 1-40 1 21" stroke="#00BEF0" vector-effect="non-scaling-stroke"/>
</g><path d="M143.2 483.2 144.7 485.6 146.1 487.0 147.5 487.5 148.9 487.1 150.3 485.8 151.7 483.7 153.1 480.8 154.5 477.2 155.9 472.8 157.3 467.9 158.7 462.3 160.1 456.3 161.5 449.7 162.9 442.7 164.3 435.4 165.7 427.7 167.1 419.8 168.5 411.6 170.0 403.3 171.4 394.8 172.8 386.3 174.2 377.7 175.6 369.2 177.0 360.7 178.4 352.3 179.8 344.1 181.2 336.2 182.6 328.5 184.0 321.1 185.4 314.1 186.8 307.5 188.2 301.4 189.6 295.7 191.0 290.6 192.4 285.9 193.8 281.9 195.2 278.3 196.7 275.3 198.1 272.9 199.5 271.0 200.9 269.6 202.3 268.7 203.7 268.3 205.1 268.3 206.5 268.8 207.9 269.7 209.3 271.1 210.7 272.8 212.1 275.0 213.5 277.5 214.9 280.5 216.3 283.9 217.7 287.7 219.1 291.9 220.5 296.6 221.9 301.8 223.4 307.5 224.8 313.6 226.2 320.3 227.6 327.4 229.0 335.0 230.4 343.1 231.8 351.6 233.2 360.4 234.6 369.5 236.0 378.9 237.4 388.4 238.8 397.9 240.2 407.5 241.6 416.9 243.0 426.1 244.4 434.9 245.8 443.3 247.2 451.2 248.6 458.5 250.1 465.1 251.5 470.9 252.9 475.9 254.3 480.0 255.7 483.2 257.1 485.6 258.5 487.0 259.9 487.5 261.3 487.1 262.7 485.8 264.1 483.7 265.5 480.8 266.9 477.2 268.3 472.8 269.7 467.9 271.1 462.3 272.5 456.3 273.9 449.7 275.3 442.7 276.8 435.4 278.2 427.7 279.6 419.8 281.0 411.6 282.4 403.3 283.8 394.8 285.2 386.3 286.6 377.7 288.0 369.2 289.4 360.7 290.8 352.3 292.2 344.1 293.6 336.2 295.0 328.5 296.4 321.1 297.8 314.1 299.2 307.5 300.6 301.4 302.1 295.7 303.5 290.6 304.9 285.9 306.3 281.9 307.7 278.3 309.1 275.3 310.5 272.9 311.9 271.0 313.3 269.6 314.7 268.7 316.1 268.3 317.5 268.3 318.9 268.8 320.3 269.7 321.7 271.1 323.1 272.8 324.5 275.0 325.9 277.5 327.3 280.5 328.8 283.9 330.2 287.7 331.6 291.9 333.0 296.6 334.4 301.8 335.8 307.5 337.2 313.6 338.6 320.3 340.0 327.4 341.4 335.0 342.8 343.1 344.2 351.6 345.6 360.4 347.0 369.5 348.4 378.9 349.8 388.4 351.2 397.9 352.6 407.5 354.0 416.9 355.5 426.1 356.9 434.9 358.3 443.3 359.7 451.2 361.1 458.5 362.5 465.1 363.9 470.9 365.3 475.9 366.7 480.0 368.1 483.2 369.5 485.6 370.9 487.0 372.3 487.5 373.7 487.1 375.1 485.8 376.5 483.7 377.9 480.8 379.3 477.2 380.7 472.8 382.2 467.9 383.6 462.3 385.0 456.3 386.4 449.7 387.8 442.7 389.2 435.4 390.6 427.7 392.0 419.8 393.4 411.6 394.8 403.3 396.2 394.8 397.6 386.3 399.0 377.7 400.4 369.2 401.8 360.7 403.2 352.3 404.6 344.1 406.0 336.2 407.4 328.5 408.9 321.1 410.3 314.1 411.7 307.5 413.1 301.4 414.5 295.7 415.9 290.6 417.3 285.9 418.7 281.9 420.1 278.3 421.5 275.3 422.9 272.9 424.3 271.0 425.7 269.6 427.1 268.7 428.5 268.3 429.9 268.3 431.3 268.8 432.7 269.7 434.1 271.1 435.6 272.8 437.0 275.0 438.4 277.5 439.8 280.5 441.2 283.9 442.6 287.7 444.0 291.9 445.4 296.6 446.8 301.8 448.2 307.5 449.6 313.6 451.0 320.3 452.4 327.4 453.8 335.0 455.2 343.1 456.6 351.6 458.0 360.4 459.4 369.5 460.9 378.9 462.3 388.4 463.7 397.9 465.1 407.5 466.5 416.9 467.9 426.1 469.3 434.9 470.7 443.3 472.1 451.2 473.5 458.5 474.9 465.1 476.3 470.9 477.7 475.9 479.1 480.0 480.5 483.2 481.9 485.6 483.3 487.0 484.7 487.5 486.1 487.1 487.6 485.8 489.0 483.7 490.4 480.8 491.8 477.2 493.2 472.8 494.6 467.9 496.0 462.3 497.4 456.3 498.8 449.7 500.2 442.7 501.6 435.4 503.0 427.7 504.4 419.8 505.8 411.6 507.2 403.3 508.6 394.8 510.0 386.3 511.4 377.7 512.8 369.2 514.3 360.7 515.7 352.3 517.1 344.1 518.5 336.2 519.9 328.5 521.3 321.1 522.7 314.1 524.1 307.5 525.5 301.4 526.9 295.7 528.3 290.6 529.7 285.9 531.1 281.9 532.5 278.3 533.9 275.3 535.3 272.9 536.7 271.0 538.1 269.6 539.5 268.7 541.0 268.3 542.4 268.3 543.8 268.8 545.2 269.7 546.6 271.1 548.0 272.8 549.4 275.0 550.8 277.5 552.2 280.5 553.6 283.9 555.0 287.7 556.4 291.9 557.8 296.6 559.2 301.8 560.6 307.5 562.0 313.6 563.4 320.3 564.8 327.4 566.2 335.0 567.7 343.1 569.1 351.6 570.5 360.4 571.9 369.5 573.3 378.9 574.7 388.4 576.1 397.9 577.5 407.5 578.9 416.9 580.3 426.1 581.7 434.9 583.1 443.3 584.5 451.2 585.9 458.5 587.3 465.1 588.7 470.9 590.1 475.9 591.5 480.0 593.0 483.2 594.4 485.6 595.8 487.0 597.2 487.5 598.6 487.1 600.0 485.8 601.4 483.7 602.8 480.8 604.2 477.2 605.6 472.8 607.0 467.9 608.4 462.3 609.8 456.3 611.2 449.7 612.6 442.7 614.0 435.4 615.4 427.7 616.8 419.8 618.2 411.6 619.7 403.3 621.1 394.8 622.5 386.3 623.9 377.7 625.3 369.2 626.7 360.7 628.1 352.3 629.5 344.1 630.9 336.2 632.3 328.5 633.7 321.1 635.1 314.1 636.5 307.5 637.9 301.4 639.3 295.7 640.7 290.6 642.1 285.9 643.5 281.9 644.9 278.3 646.4 275.3 647.8 272.9 649.2 271.0 650.6 269.6 652.0 268.7 653.4 268.3 654.8 268.3 656.2 268.8 657.6 269.7 659.0 271.1 660.4 272.8 661.8 275.0 663.2 277.5 664.6 280.5 666.0 283.9 667.4 287.7 668.8 291.9 670.2 296.6 671.6 301.8 673.1 307.5 674.5 313.6 675.9 320.3 677.3 327.4 678.7 335.0 680.1 343.1 681.5 351.6 682.9 360.4 684.3 369.5 685.7 378.9 687.1 388.4 688.5 397.9 689.9 407.5 691.3 416.9 692.7 426.1 694.1 434.9 695.5 443.3 696.9 451.2 698.3 458.5 699.8 465.1 701.2 470.9 702.6 475.9 704.0 480.0 705.4 483.2 706.8 485.6 708.2 487.0 709.6 487.5 711.0 487.1 712.4 485.8 713.8 483.7 715.2 480.8 716.6 477.2 718.0 472.8 719.4 467.9 720.8 462.3 722.2 456.3 723.6 449.7 725.0 442.7 726.5 435.4 727.9 427.7 729.3 419.8 730.7 411.6 732.1 403.3 733.5 394.8 734.9 386.3 736.3 377.7 737.7 369.2 739.1 360.7 740.5 352.3 741.9 344.1 743.3 336.2 744.7 328.5 746.1 321.1 747.5 314.1 748.9 307.5 750.3 301.4 751.8 295.7 753.2 290.6 754.6 285.9 756.0 281.9 757.4 278.3 758.8 275.3 760.2 272.9 761.6 271.0 763.0 269.6 764.4 268.7 765.8 268.3 767.2 268.3 768.6 268.8 770.0 269.7 771.4 271.1 772.8 272.8 774.2 275.0 775.6 277.5 777.0 280.5 778.5 283.9 779.9 287.7 781.3 291.9 782.7 296.6 784.1 301.8 785.5 307.5 786.9 313.6 788.3 320.3 789.7 327.4 791.1 335.0 792.5 343.1 793.9 351.6 795.3 360.4 796.7 369.5 798.1 378.9 799.5 388.4 800.9 397.9 802.3 407.5 803.7 416.9 805.2 426.1 806.6 434.9 808.0 443.3 809.4 451.2 810.8 458.5 812.2 465.1 813.6 470.9 815.0 475.9 816.4 480.0 817.8 483.2 819.2 485.6 820.6 487.0 822.0 487.5 823.4 487.1 824.8 485.8 826.2 483.7 827.6 480.8 829.0 477.2 830.4 472.8 831.9 467.9 833.3 462.3 834.7 456.3 836.1 449.7 837.5 442.7 838.9 435.4 840.3 427.7 841.7 419.8 843.1 411.6 844.5 403.3 845.9 394.8 847.3 386.3 848.7 377.7 850.1 369.2 851.5 360.7 852.9 352.3 854.3 344.1 855.7 336.2 857.1 328.5 858.6 321.1 860.0 314.1 861.4 307.5 862.8 301.4 864.2 295.7 865.6 290.6 867.0 285.9 868.4 281.9 869.8 278.3 871.2 275.3 872.6 272.9 874.0 271.0 875.4 269.6 876.8 268.7 878.2 268.3 879.6 268.3 881.0 268.8 882.4 269.7 883.8 271.1 885.3 272.8 886.7 275.0 888.1 277.5 889.5 280.5 890.9 283.9 892.3 287.7 893.7 291.9 895.1 296.6 896.5 301.8 897.9 307.5 899.3 313.6 900.7 320.3 902.1 327.4 903.5 335.0 904.9 343.1 906.3 351.6 907.7 360.4 909.1 369.5 910.6 378.9 912.0 388.4 913.4 397.9 914.8 407.5 916.2 416.9 917.6 426.1 919.0 434.9 920.4 443.3 921.8 451.2 923.2 458.5 924.6 465.1 926.0 470.9 927.4 475.9 928.8 480.0 930.2 483.2 931.6 485.6 933.0 487.0 934.4 487.5 935.8 487.1 937.3 485.8 938.7 483.7 940.1 480.8 941.5 477.2 942.9 472.8 944.3 467.9 945.7 462.3 947.1 456.3 948.5 449.7 949.9 442.7 951.3 435.4 952.7 427.7 954.1 419.8 955.5 411.6 956.9 403.3 958.3 394.8 959.7 386.3 961.1 377.7 962.5 369.2 964.0 360.7 965.4 352.3 966.8 344.1 968.2 336.2 969.6 328.5 971.0 321.1 972.4 314.1 973.8 307.5 975.2 301.4 976.6 295.7 978.0 290.6 979.4 285.9 980.8 281.9 982.2 278.3 983.6 275.3 985.0 272.9 986.4 271.0 987.8 269.6 989.2 268.7 990.7 268.3 992.1 268.3 993.5 268.8 994.9 269.7 996.3 271.1 997.7 272.8 999.1 275.0 1000.5 277.5 1001.9 280.5 1003.3 283.9 1004.7 287.7 1006.1 291.9 1007.5 296.6 1008.9 301.8 1010.3 307.5 1011.7 313.6 1013.1 320.3 1014.5 327.4 1015.9 335.0 1017.4 343.1 1018.8 351.6 1020.2 360.4 1021.6 369.5 1023.0 378.9 1024.4 388.4 1025.8 397.9 1027.2 407.5 1028.6 416.9 1030.0 426.1 1031.4 434.9 1032.8 443.3 1034.2 451.2 1035.6 458.5 1037.0 465.1 1038.4 470.9 1039.8 475.9 1041.2 480.0 1042.7 483.2 1044.1 485.6 1045.5 487.0 1046.9 487.5 1048.3 487.1 1049.7 485.8 1051.1 483.7 1052.5 480.8 1053.9 477.2 1055.3 472.8 1056.7 467.9 1058.1 462.3 1059.5 456.3 1060.9 449.7 1062.3 442.7 1063.7 435.4 1065.1 427.7 1066.5 419.8 1067.9 411.6 1069.4 403.3 1070.8 394.8 1072.2 386.3 1073.6 377.7 1075.0 369.2 1076.4 360.7 1077.8 352.3 1079.2 344.1 1080.6 336.2 1082.0 328.5 1083.4 321.1 1084.8 314.1 1086.2 307.5 1087.6 301.4 1089.0 295.7 1090.4 290.6 1091.8 285.9 1093.2 281.9 1094.6 278.3 1096.1 275.3 1097.5 272.9 1098.9 271.0 1100.3 269.6 1101.7 268.7 1103.1 268.3 1104.5 268.3 1105.9 268.8 1107.3 269.7 1108.7 271.1 1110.1 272.8 1111.5 275.0 1112.9 277.5 1114.3 280.5 1115.7 283.9 1117.1 287.7 1118.5 291.9 1119.9 296.6 1121.3 301.8 1122.8 307.5 1124.2 313.6 1125.6 320.3 1127.0 327.4 1128.4 335.0 1129.8 343.1 1131.2 351.6 1132.6 360.4 1134.0 369.5 1135.4 378.9 1136.8 388.4 1138.2 397.9 1139.6 407.5 1141.0 416.9 1142.4 426.1 1143.8 434.9 1145.2 443.3 1146.6 451.2 1148.0 458.5 1149.5 465.1 1150.9 470.9 1152.3 475.9 1153.7 480.0 1155.1 483.2 1156.5 485.6 1157.9 487.0 1159.3 487.5 1160.7 487.1 1162.1 485.8 1163.5 483.7 1164.9 480.8 1166.3 477.2 1167.7 472.8 1169.1 467.9 1170.5 462.3 1171.9 456.3 1173.3 449.7 1174.7 442.7 1176.2 435.4 1177.6 427.7 1179.0 419.8 1180.4 411.6 1181.8 403.3 1183.2 394.8 1184.6 386.3 1186.0 377.7 1187.4 369.2 1188.8 360.7 1190.2 352.3 1191.6 344.1 1193.0 336.2 1194.4 328.5 1195.8 321.1 1197.2 314.1 1198.6 307.5 1200.0 301.4 1201.5 295.7 1202.9 290.6 1204.3 285.9 1205.7 281.9 1207.1 278.3 1208.5 275.3 1209.9 272.9 1211.3 271.0 1212.7 269.6 1214.1 268.7 1215.5 268.3 1216.9 268.3 1218.3 268.8 1219.7 269.7 1221.1 271.1 1222.5 272.8 1223.9 275.0 1225.3 277.5 1226.7 280.5 1228.2 283.9 1229.6 287.7 1231.0 291.9 1232.4 296.6 1233.8 301.8 1235.2 307.5 1236.6 313.6 1238.0 320.3 1239.4 327.4 1240.8 335.0 1242.2 343.1 1243.6 351.6 1245.0 360.4 1246.4 369.5 1247.8 378.9 1249.2 388.4 1250.6 397.9 1252.0 407.5 1253.4 416.9 1254.9 426.1 1256.3 434.9 1257.7 443.3 1259.1 451.2 1260.5 458.5 1261.9 465.1 1263.3 470.9 1264.7 475.9 1266.1 480.0 1267.5 483.2" stroke="#FC0000" stroke-width="3.7"/>
</g>
<g fill="#262626" font-size="36.4"><text x="142.45" y="724.3" text-anchor="middle">2007</text><text x="254.88" y="724.3" text-anchor="middle">2008</text><text x="367.30" y="724.3" text-anchor="middle">2009</text><text x="479.72" y="724.3" text-anchor="middle">2010</text><text x="592.15" y="724.3" text-anchor="middle">2011</text><text x="704.58" y="724.3" text-anchor="middle">2012</text><text x="817.00" y="724.3" text-anchor="middle">2013</text><text x="929.42" y="724.3" text-anchor="middle">2014</text><text x="1041.85" y="724.3" text-anchor="middle">2015</text><text x="1154.28" y="724.3" text-anchor="middle">2016</text><text x="1266.70" y="724.3" text-anchor="middle">2017</text><text x="127.2" y="665.12" text-anchor="end">250</text><text x="127.2" y="561.20" text-anchor="end">260</text><text x="127.2" y="457.28" text-anchor="end">270</text><text x="127.2" y="353.36" text-anchor="end">280</text><text x="127.2" y="249.44" text-anchor="end">290</text><text x="127.2" y="145.52" text-anchor="end">300</text><text x="127.2" y="41.60" text-anchor="end">310</text><text x="705.35" y="777.2" text-anchor="middle" font-size="39.6">year</text><text transform="translate(46.9,349.85) rotate(-90)" text-anchor="middle" font-size="40.2" fill="#444">Tm (K)</text></g>
<rect x="195.7" y="63.7" width="1019.2" height="53.8" fill="#fff" stroke="#262626" stroke-width="1.6"/><line x1="206.2" y1="90" x2="287.9" y2="90" stroke="#00FF00" stroke-width="3.8"/><text x="296.2" y="103.2" font-size="32.8" letter-spacing="0.00" fill="#000">Radiosonde</text><line x1="485.3" y1="90" x2="567.1" y2="90" stroke="#8E2290" stroke-width="3.8"/><text x="574.6" y="103.2" font-size="32.8" letter-spacing="0.40" fill="#000">RF</text><line x1="632.2" y1="90" x2="713.9" y2="90" stroke="#FFAC00" stroke-width="3.8"/><text x="722.0" y="103.2" font-size="32.8" letter-spacing="0.05" fill="#000">GRNN</text><line x1="831.6" y1="90" x2="913.5" y2="90" stroke="#00BEF0" stroke-width="3.8"/><text x="921.2" y="103.2" font-size="32.8" letter-spacing="0.40" fill="#000">BPNN</text><line x1="1027.1" y1="90" x2="1108.9" y2="90" stroke="#FC0000" stroke-width="3.8"/><text x="1116.5" y="103.2" font-size="32.8" letter-spacing="0.40" fill="#000">GPT3</text>
</svg>
</body></html>
